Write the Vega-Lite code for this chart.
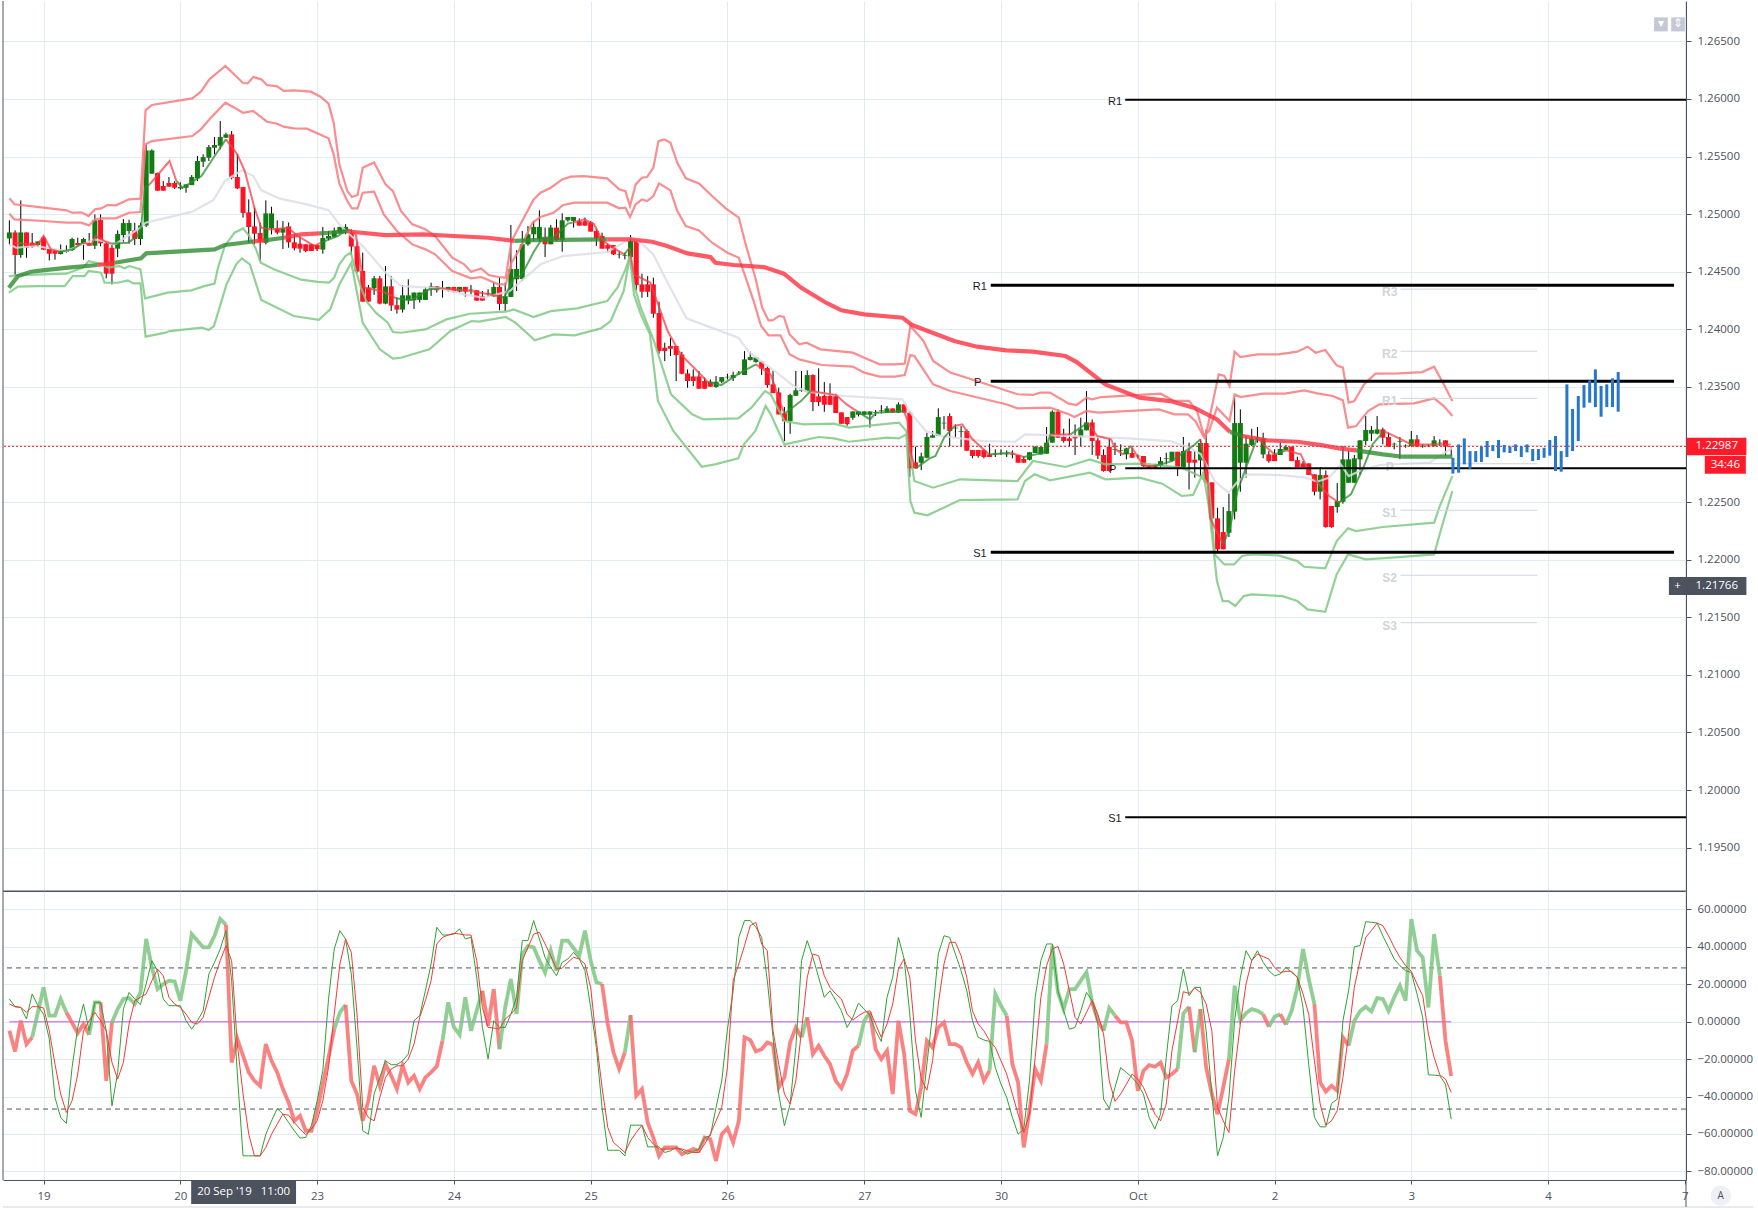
{"$schema":"https://vega.github.io/schema/vega-lite/v6.json","padding":{"left":0,"top":0,"right":73,"bottom":31},"background":"#ffffff","spacing":0,"bounds":"flush","config":{"view":{"stroke":null},"axis":{"title":null},"scale":{"continuousPadding":0}},
"datasets":{
"candles":[
{"t":-6,"o":1.24789,"h":1.24946,"l":1.24737,"c":1.24841},{"t":-5,"o":1.24841,"h":1.24859,"l":1.24471,"c":1.24645},{"t":-4,"o":1.24645,"h":1.25119,"l":1.24621,"c":1.24841},{"t":-3,"o":1.24841,"h":1.24841,"l":1.24621,"c":1.24708},{"t":-2,"o":1.24752,"h":1.24836,"l":1.24708,"c":1.24714},{"t":-1,"o":1.24731,"h":1.24763,"l":1.24714,"c":1.24763},{"t":0,"o":1.24795,"h":1.2481,"l":1.24691,"c":1.24691},{"t":1,"o":1.24697,"h":1.24697,"l":1.24598,"c":1.24656},{"t":2,"o":1.24685,"h":1.24685,"l":1.24604,"c":1.24656},{"t":3,"o":1.24653,"h":1.24737,"l":1.2465,"c":1.24682},{"t":4,"o":1.24674,"h":1.24729,"l":1.24665,"c":1.24685},{"t":5,"o":1.24688,"h":1.24795,"l":1.24679,"c":1.24784},{"t":6,"o":1.24749,"h":1.24795,"l":1.24731,"c":1.24731},{"t":7,"o":1.24743,"h":1.24795,"l":1.24604,"c":1.24784},{"t":8,"o":1.24749,"h":1.24836,"l":1.24726,"c":1.24726},{"t":9,"o":1.24726,"h":1.24998,"l":1.24697,"c":1.24946},{"t":10,"o":1.24948,"h":1.24998,"l":1.2472,"c":1.24746},{"t":11,"o":1.24746,"h":1.24766,"l":1.24442,"c":1.24483},{"t":12,"o":1.24708,"h":1.24731,"l":1.2439,"c":1.24483},{"t":13,"o":1.247,"h":1.24859,"l":1.24627,"c":1.24827},{"t":14,"o":1.24818,"h":1.24957,"l":1.2476,"c":1.24922},{"t":15,"o":1.24853,"h":1.24951,"l":1.24743,"c":1.24922},{"t":16,"o":1.24859,"h":1.24925,"l":1.24731,"c":1.24784},{"t":17,"o":1.24784,"h":1.24925,"l":1.24731,"c":1.24902},{"t":18,"o":1.24902,"h":1.25605,"l":1.24888,"c":1.25553},{"t":19,"o":1.25351,"h":1.25562,"l":1.25351,"c":1.25553},{"t":20,"o":1.25357,"h":1.2536,"l":1.25203,"c":1.25203},{"t":21,"o":1.25244,"h":1.25287,"l":1.25203,"c":1.25203},{"t":22,"o":1.2527,"h":1.25322,"l":1.25238,"c":1.25238},{"t":23,"o":1.2527,"h":1.25287,"l":1.25218,"c":1.25229},{"t":24,"o":1.25223,"h":1.25276,"l":1.25212,"c":1.25235},{"t":25,"o":1.25229,"h":1.25258,"l":1.25186,"c":1.25258},{"t":26,"o":1.25252,"h":1.25339,"l":1.25252,"c":1.25322},{"t":27,"o":1.2531,"h":1.25504,"l":1.25287,"c":1.25461},{"t":28,"o":1.25455,"h":1.25519,"l":1.25409,"c":1.25495},{"t":29,"o":1.2549,"h":1.256,"l":1.25461,"c":1.25582},{"t":30,"o":1.25576,"h":1.25669,"l":1.25519,"c":1.256},{"t":31,"o":1.25594,"h":1.25808,"l":1.25562,"c":1.25669},{"t":32,"o":1.25663,"h":1.25707,"l":1.25663,"c":1.25692},{"t":33,"o":1.25692,"h":1.25721,"l":1.25302,"c":1.25316},{"t":34,"o":1.25322,"h":1.25519,"l":1.25218,"c":1.25223},{"t":35,"o":1.25235,"h":1.25235,"l":1.24969,"c":1.25009},{"t":36,"o":1.25015,"h":1.25128,"l":1.24752,"c":1.24888},{"t":37,"o":1.24893,"h":1.25056,"l":1.24737,"c":1.2483},{"t":38,"o":1.24836,"h":1.24925,"l":1.24592,"c":1.2476},{"t":39,"o":1.24752,"h":1.25119,"l":1.24737,"c":1.25006},{"t":40,"o":1.24876,"h":1.25064,"l":1.24824,"c":1.25006},{"t":41,"o":1.24876,"h":1.24946,"l":1.24824,"c":1.24839},{"t":42,"o":1.24839,"h":1.2494,"l":1.24697,"c":1.24876},{"t":43,"o":1.24893,"h":1.24928,"l":1.24708,"c":1.24755},{"t":44,"o":1.24755,"h":1.24824,"l":1.24685,"c":1.24703},{"t":45,"o":1.24743,"h":1.24801,"l":1.24665,"c":1.247},{"t":46,"o":1.24738,"h":1.24738,"l":1.24669,"c":1.2468},{"t":47,"o":1.24738,"h":1.24738,"l":1.2468,"c":1.2468},{"t":48,"o":1.24732,"h":1.24732,"l":1.2468,"c":1.24695},{"t":49,"o":1.24692,"h":1.24889,"l":1.24657,"c":1.24793},{"t":50,"o":1.24787,"h":1.24854,"l":1.24773,"c":1.2481},{"t":51,"o":1.24802,"h":1.24883,"l":1.24796,"c":1.24854},{"t":52,"o":1.24839,"h":1.24889,"l":1.24831,"c":1.24889},{"t":53,"o":1.24839,"h":1.24912,"l":1.24825,"c":1.24889},{"t":54,"o":1.24839,"h":1.24868,"l":1.24646,"c":1.24718},{"t":55,"o":1.24721,"h":1.24773,"l":1.24492,"c":1.24501},{"t":56,"o":1.24507,"h":1.24666,"l":1.2424,"c":1.2424},{"t":57,"o":1.24362,"h":1.24385,"l":1.2424,"c":1.2424},{"t":58,"o":1.24356,"h":1.24463,"l":1.24298,"c":1.24443},{"t":59,"o":1.24443,"h":1.24463,"l":1.24217,"c":1.24223},{"t":60,"o":1.24223,"h":1.2455,"l":1.24217,"c":1.24373},{"t":61,"o":1.24373,"h":1.24463,"l":1.24159,"c":1.24206},{"t":62,"o":1.24209,"h":1.24275,"l":1.24136,"c":1.24171},{"t":63,"o":1.24171,"h":1.24385,"l":1.24145,"c":1.24295},{"t":64,"o":1.24252,"h":1.24434,"l":1.24217,"c":1.24295},{"t":65,"o":1.24252,"h":1.24319,"l":1.24177,"c":1.24319},{"t":66,"o":1.24255,"h":1.24319,"l":1.24232,"c":1.24319},{"t":67,"o":1.24255,"h":1.24368,"l":1.24255,"c":1.24347},{"t":68,"o":1.24347,"h":1.24405,"l":1.2429,"c":1.24373},{"t":69,"o":1.24373,"h":1.24373,"l":1.24319,"c":1.24339},{"t":70,"o":1.24353,"h":1.2442,"l":1.24275,"c":1.24359},{"t":71,"o":1.24339,"h":1.24368,"l":1.24327,"c":1.24368},{"t":72,"o":1.24368,"h":1.24368,"l":1.24319,"c":1.24327},{"t":73,"o":1.24327,"h":1.24368,"l":1.24319,"c":1.24368},{"t":74,"o":1.24368,"h":1.24368,"l":1.24284,"c":1.24327},{"t":75,"o":1.24339,"h":1.24385,"l":1.24304,"c":1.24345},{"t":76,"o":1.24339,"h":1.24339,"l":1.24249,"c":1.24249},{"t":77,"o":1.24287,"h":1.24333,"l":1.24249,"c":1.24249},{"t":78,"o":1.2431,"h":1.24347,"l":1.24281,"c":1.24316},{"t":79,"o":1.24287,"h":1.24405,"l":1.24281,"c":1.24368},{"t":80,"o":1.24368,"h":1.24449,"l":1.24165,"c":1.2422},{"t":81,"o":1.2422,"h":1.24405,"l":1.24159,"c":1.24287},{"t":82,"o":1.24281,"h":1.24906,"l":1.24281,"c":1.24524},{"t":83,"o":1.24434,"h":1.24686,"l":1.24333,"c":1.24524},{"t":84,"o":1.24437,"h":1.24854,"l":1.2442,"c":1.24738},{"t":85,"o":1.24738,"h":1.24897,"l":1.24724,"c":1.24825},{"t":86,"o":1.24825,"h":1.24941,"l":1.24767,"c":1.24889},{"t":87,"o":1.24782,"h":1.25033,"l":1.24767,"c":1.24889},{"t":88,"o":1.24796,"h":1.24883,"l":1.24628,"c":1.24738},{"t":89,"o":1.24738,"h":1.24906,"l":1.24738,"c":1.24883},{"t":90,"o":1.24883,"h":1.24955,"l":1.24767,"c":1.24773},{"t":91,"o":1.24773,"h":1.25007,"l":1.24674,"c":1.24946},{"t":92,"o":1.24946,"h":1.24975,"l":1.24935,"c":1.24975},{"t":93,"o":1.24941,"h":1.24975,"l":1.24883,"c":1.24975},{"t":94,"o":1.24938,"h":1.24964,"l":1.249,"c":1.249},{"t":95,"o":1.24938,"h":1.2497,"l":1.249,"c":1.249},{"t":96,"o":1.24929,"h":1.24941,"l":1.24848,"c":1.24848},{"t":97,"o":1.24854,"h":1.24868,"l":1.24724,"c":1.2479},
{"t":98,"o":1.2481,"h":1.24839,"l":1.247,"c":1.247},{"t":99,"o":1.24731,"h":1.24743,"l":1.24665,"c":1.247},{"t":100,"o":1.24731,"h":1.24731,"l":1.24645,"c":1.2465},{"t":101,"o":1.24645,"h":1.24674,"l":1.24616,"c":1.2465},{"t":102,"o":1.24639,"h":1.24665,"l":1.24607,"c":1.24645},{"t":103,"o":1.24627,"h":1.24818,"l":1.24607,"c":1.24766},{"t":104,"o":1.24766,"h":1.24766,"l":1.24338,"c":1.24384},{"t":105,"o":1.2439,"h":1.24483,"l":1.24274,"c":1.24326},{"t":106,"o":1.2439,"h":1.24462,"l":1.2428,"c":1.24326},{"t":107,"o":1.2439,"h":1.24448,"l":1.24101,"c":1.24135},{"t":108,"o":1.24141,"h":1.2424,"l":1.23788,"c":1.23811},{"t":109,"o":1.2384,"h":1.23884,"l":1.23724,"c":1.23811},{"t":110,"o":1.23855,"h":1.23927,"l":1.23768,"c":1.23831},{"t":111,"o":1.23855,"h":1.23855,"l":1.23551,"c":1.23777},{"t":112,"o":1.23782,"h":1.23805,"l":1.23609,"c":1.23614},{"t":113,"o":1.23617,"h":1.23652,"l":1.23493,"c":1.23551},{"t":114,"o":1.23591,"h":1.23652,"l":1.23507,"c":1.23551},{"t":115,"o":1.23591,"h":1.23638,"l":1.23484,"c":1.23484},{"t":116,"o":1.23551,"h":1.2358,"l":1.23484,"c":1.23484},{"t":117,"o":1.23545,"h":1.23565,"l":1.23499,"c":1.23502},{"t":118,"o":1.23499,"h":1.23594,"l":1.23493,"c":1.23545},{"t":119,"o":1.23545,"h":1.23585,"l":1.23533,"c":1.23585},{"t":120,"o":1.23583,"h":1.23614,"l":1.23565,"c":1.23588},{"t":121,"o":1.23577,"h":1.23632,"l":1.23551,"c":1.23603},{"t":122,"o":1.23617,"h":1.23638,"l":1.23603,"c":1.23623},{"t":123,"o":1.23603,"h":1.23811,"l":1.23603,"c":1.23739},{"t":124,"o":1.23733,"h":1.23805,"l":1.2373,"c":1.23759},{"t":125,"o":1.23716,"h":1.23756,"l":1.2371,"c":1.23756},{"t":126,"o":1.23719,"h":1.23724,"l":1.23603,"c":1.23658},{"t":127,"o":1.23664,"h":1.23681,"l":1.23493,"c":1.23516},{"t":128,"o":1.23522,"h":1.23638,"l":1.23446,"c":1.23446},{"t":129,"o":1.23452,"h":1.23493,"l":1.23261,"c":1.23261},{"t":130,"o":1.2327,"h":1.23325,"l":1.2303,"c":1.23203},{"t":131,"o":1.23203,"h":1.23441,"l":1.23093,"c":1.23429},{"t":132,"o":1.23423,"h":1.23638,"l":1.23423,"c":1.2347},{"t":133,"o":1.23464,"h":1.23638,"l":1.23458,"c":1.2347},{"t":134,"o":1.23458,"h":1.23643,"l":1.23452,"c":1.23603},{"t":135,"o":1.23603,"h":1.23609,"l":1.2329,"c":1.23368},{"t":136,"o":1.23418,"h":1.23661,"l":1.23334,"c":1.23368},{"t":137,"o":1.23423,"h":1.23542,"l":1.23284,"c":1.23345},{"t":138,"o":1.23423,"h":1.2353,"l":1.23345,"c":1.23345},{"t":139,"o":1.23418,"h":1.23441,"l":1.23273,"c":1.23273},{"t":140,"o":1.23279,"h":1.23279,"l":1.2318,"c":1.2318},{"t":141,"o":1.23238,"h":1.23238,"l":1.23163,"c":1.23177},{"t":142,"o":1.23232,"h":1.23287,"l":1.23215,"c":1.23287},{"t":143,"o":1.23258,"h":1.23287,"l":1.23244,"c":1.23287},{"t":144,"o":1.23258,"h":1.23287,"l":1.23255,"c":1.23287},{"t":145,"o":1.23258,"h":1.23287,"l":1.23146,"c":1.23287},{"t":146,"o":1.23276,"h":1.23299,"l":1.23247,"c":1.23282},{"t":147,"o":1.2329,"h":1.23342,"l":1.2327,"c":1.23296},{"t":148,"o":1.23276,"h":1.23334,"l":1.23276,"c":1.23313},{"t":149,"o":1.23313,"h":1.23313,"l":1.23276,"c":1.23276},{"t":150,"o":1.23276,"h":1.23365,"l":1.23276,"c":1.23348},
{"t":151,"o":1.23348,"h":1.23354,"l":1.23276,"c":1.23276},{"t":152,"o":1.23276,"h":1.23291,"l":1.22718,"c":1.22793},{"t":153,"o":1.22845,"h":1.22981,"l":1.22793,"c":1.22793},{"t":154,"o":1.22842,"h":1.22929,"l":1.22778,"c":1.22897},{"t":155,"o":1.22885,"h":1.23102,"l":1.2288,"c":1.23065},{"t":156,"o":1.23059,"h":1.23117,"l":1.23059,"c":1.23079},{"t":157,"o":1.23076,"h":1.23314,"l":1.23076,"c":1.23238},{"t":158,"o":1.23183,"h":1.23247,"l":1.23131,"c":1.23189},{"t":159,"o":1.23247,"h":1.2327,"l":1.22987,"c":1.23117},{"t":160,"o":1.2314,"h":1.23175,"l":1.23059,"c":1.23146},{"t":161,"o":1.23111,"h":1.2316,"l":1.22987,"c":1.23117},{"t":162,"o":1.23117,"h":1.23131,"l":1.22946,"c":1.22946},{"t":163,"o":1.22952,"h":1.22952,"l":1.2288,"c":1.229},{"t":164,"o":1.22952,"h":1.22952,"l":1.22885,"c":1.229},{"t":165,"o":1.22952,"h":1.22958,"l":1.2288,"c":1.22891},{"t":166,"o":1.22914,"h":1.23007,"l":1.22891,"c":1.22891},{"t":167,"o":1.22914,"h":1.22958,"l":1.22891,"c":1.2292},{"t":168,"o":1.2292,"h":1.22958,"l":1.22909,"c":1.22926},{"t":169,"o":1.22914,"h":1.22949,"l":1.22891,"c":1.2292},{"t":170,"o":1.22909,"h":1.22949,"l":1.2288,"c":1.22914},{"t":171,"o":1.22909,"h":1.22909,"l":1.22842,"c":1.22842},{"t":172,"o":1.22874,"h":1.229,"l":1.22842,"c":1.22842},{"t":173,"o":1.22868,"h":1.22932,"l":1.22862,"c":1.22932},{"t":174,"o":1.22926,"h":1.22987,"l":1.22926,"c":1.22978},{"t":175,"o":1.22914,"h":1.22981,"l":1.22914,"c":1.22978},{"t":176,"o":1.2292,"h":1.23152,"l":1.2292,"c":1.23016},{"t":177,"o":1.23016,"h":1.23296,"l":1.23016,"c":1.23285},{"t":178,"o":1.23285,"h":1.23305,"l":1.23059,"c":1.23059},{"t":179,"o":1.23065,"h":1.23137,"l":1.23016,"c":1.2303},{"t":180,"o":1.23053,"h":1.23224,"l":1.22987,"c":1.2303},{"t":181,"o":1.23073,"h":1.23175,"l":1.22909,"c":1.23053},{"t":182,"o":1.23065,"h":1.23233,"l":1.22987,"c":1.23131},{"t":183,"o":1.23123,"h":1.23464,"l":1.23123,"c":1.23192},{"t":184,"o":1.23192,"h":1.23218,"l":1.22909,"c":1.2303},{"t":185,"o":1.23036,"h":1.23059,"l":1.22874,"c":1.22903},{"t":186,"o":1.22909,"h":1.22958,"l":1.22764,"c":1.2277},{"t":187,"o":1.22981,"h":1.23059,"l":1.22764,"c":1.2277},{"t":188,"o":1.22952,"h":1.23016,"l":1.22909,"c":1.22958},{"t":189,"o":1.22946,"h":1.23001,"l":1.229,"c":1.22952},{"t":190,"o":1.22914,"h":1.22972,"l":1.22871,"c":1.22966},{"t":191,"o":1.22926,"h":1.22972,"l":1.22885,"c":1.22885},{"t":192,"o":1.22897,"h":1.22914,"l":1.2288,"c":1.22903},{"t":193,"o":1.229,"h":1.229,"l":1.22804,"c":1.22813},{"t":194,"o":1.22816,"h":1.22822,"l":1.22793,"c":1.22799},{"t":195,"o":1.22822,"h":1.22833,"l":1.22793,"c":1.22799},{"t":196,"o":1.22816,"h":1.22891,"l":1.22804,"c":1.22856},{"t":197,"o":1.22874,"h":1.22929,"l":1.22827,"c":1.2288},{"t":198,"o":1.22856,"h":1.22937,"l":1.22851,"c":1.22937},{"t":199,"o":1.22937,"h":1.22937,"l":1.22726,"c":1.22804},{"t":200,"o":1.22804,"h":1.23065,"l":1.22804,"c":1.22943},{"t":201,"o":1.22943,"h":1.23016,"l":1.2261,"c":1.22842},{"t":202,"o":1.22868,"h":1.22943,"l":1.22712,"c":1.22842},{"t":203,"o":1.22862,"h":1.23045,"l":1.22712,"c":1.23013},
{"t":204,"o":1.23013,"h":1.23131,"l":1.22671,"c":1.22671},{"t":205,"o":1.22671,"h":1.22671,"l":1.22255,"c":1.22359},{"t":206,"o":1.22359,"h":1.22451,"l":1.22075,"c":1.2209},{"t":207,"o":1.2224,"h":1.22457,"l":1.2209,"c":1.2209},{"t":208,"o":1.22234,"h":1.22573,"l":1.22197,"c":1.22422},{"t":209,"o":1.22417,"h":1.23406,"l":1.2235,"c":1.23186},{"t":210,"o":1.22842,"h":1.23305,"l":1.2259,"c":1.23186},{"t":211,"o":1.22842,"h":1.23073,"l":1.22712,"c":1.23007},{"t":212,"o":1.22995,"h":1.23137,"l":1.22987,"c":1.23053},{"t":213,"o":1.23053,"h":1.23152,"l":1.23016,"c":1.23059},{"t":214,"o":1.22914,"h":1.23102,"l":1.2288,"c":1.23053},{"t":215,"o":1.22914,"h":1.22943,"l":1.22842,"c":1.22856},{"t":216,"o":1.22914,"h":1.22958,"l":1.22856,"c":1.22856},{"t":217,"o":1.22909,"h":1.23016,"l":1.22909,"c":1.22961},{"t":218,"o":1.22952,"h":1.22995,"l":1.22952,"c":1.22978},{"t":219,"o":1.22981,"h":1.22981,"l":1.22856,"c":1.22856},{"t":220,"o":1.22865,"h":1.22894,"l":1.22804,"c":1.22804},{"t":221,"o":1.22836,"h":1.22856,"l":1.22804,"c":1.22804},{"t":222,"o":1.22836,"h":1.22836,"l":1.22735,"c":1.22735},{"t":223,"o":1.22741,"h":1.22741,"l":1.22558,"c":1.2259},{"t":224,"o":1.2259,"h":1.22804,"l":1.22524,"c":1.22735},{"t":225,"o":1.22735,"h":1.22775,"l":1.22278,"c":1.22283},{"t":226,"o":1.22466,"h":1.22466,"l":1.22278,"c":1.22283},{"t":227,"o":1.22457,"h":1.22665,"l":1.22408,"c":1.22509},{"t":228,"o":1.22503,"h":1.22987,"l":1.22486,"c":1.22871},{"t":229,"o":1.22668,"h":1.22943,"l":1.22668,"c":1.22871},{"t":230,"o":1.22668,"h":1.22909,"l":1.22668,"c":1.2288},{"t":231,"o":1.22871,"h":1.23036,"l":1.22735,"c":1.23036},{"t":232,"o":1.2303,"h":1.23247,"l":1.22995,"c":1.23126},{"t":233,"o":1.23094,"h":1.2316,"l":1.2303,"c":1.23126},{"t":234,"o":1.23094,"h":1.23247,"l":1.23088,"c":1.23131},{"t":235,"o":1.23131,"h":1.23146,"l":1.23001,"c":1.23059},{"t":236,"o":1.23065,"h":1.23102,"l":1.22978,"c":1.22981},{"t":237,"o":1.23001,"h":1.23016,"l":1.22958,"c":1.23007},{"t":238,"o":1.23024,"h":1.23065,"l":1.22874,"c":1.2303},{"t":239,"o":1.22984,"h":1.23001,"l":1.22972,"c":1.2299},{"t":240,"o":1.22987,"h":1.23117,"l":1.22981,"c":1.23045},{"t":241,"o":1.23045,"h":1.23082,"l":1.22981,"c":1.22981},{"t":242,"o":1.22984,"h":1.23001,"l":1.22972,"c":1.2299},{"t":243,"o":1.22984,"h":1.23001,"l":1.22978,"c":1.2299},{"t":244,"o":1.22984,"h":1.23073,"l":1.22984,"c":1.23036},{"t":245,"o":1.2301,"h":1.23045,"l":1.22987,"c":1.23016},{"t":246,"o":1.23036,"h":1.23036,"l":1.22903,"c":1.22981},{"t":247,"o":1.22984,"h":1.22984,"l":1.22903,"c":1.22978}],
"forecast":[{"t":247.3,"hi":1.22885,"lo":1.22747},{"t":248.3,"hi":1.23001,"lo":1.22755},{"t":249.3,"hi":1.23053,"lo":1.22828},{"t":250.3,"hi":1.22943,"lo":1.2279},{"t":251.3,"hi":1.22943,"lo":1.22848},{"t":252.3,"hi":1.22984,"lo":1.22848},{"t":253.3,"hi":1.2303,"lo":1.22891},{"t":254.3,"hi":1.22995,"lo":1.22943},{"t":255.3,"hi":1.23039,"lo":1.22883},{"t":256.3,"hi":1.22995,"lo":1.22932},{"t":257.3,"hi":1.22984,"lo":1.22926},{"t":258.3,"hi":1.23001,"lo":1.22943},{"t":259.3,"hi":1.22984,"lo":1.22891},{"t":260.3,"hi":1.23001,"lo":1.22932},{"t":261.3,"hi":1.22961,"lo":1.22856},{"t":262.3,"hi":1.22961,"lo":1.22865},{"t":263.3,"hi":1.22972,"lo":1.22885},{"t":264.3,"hi":1.23039,"lo":1.22903},{"t":265.3,"hi":1.23074,"lo":1.2277},{"t":266.3,"hi":1.22943,"lo":1.22764},{"t":267.3,"hi":1.23522,"lo":1.22891},{"t":268.3,"hi":1.23308,"lo":1.22943},{"t":269.3,"hi":1.23421,"lo":1.2303},{"t":270.3,"hi":1.23516,"lo":1.2332},{"t":271.3,"hi":1.23557,"lo":1.23363},{"t":272.3,"hi":1.23652,"lo":1.23325},{"t":273.3,"hi":1.23508,"lo":1.23241},{"t":274.3,"hi":1.23522,"lo":1.23325},{"t":275.3,"hi":1.23574,"lo":1.23325},{"t":276.3,"hi":1.23629,"lo":1.23285}],
"pivots":[{"kind":"gray","name":"R3","from":238.1,"to":262.1,"p":1.24349,"lx":236.2},{"kind":"gray","name":"R2","from":238.1,"to":262.1,"p":1.2381,"lx":236.2},{"kind":"gray","name":"R1","from":238.1,"to":262.1,"p":1.23401,"lx":236.2},{"kind":"gray","name":"P","from":238.1,"to":262.1,"p":1.22833,"lx":236.2},{"kind":"gray","name":"S1","from":238.1,"to":262.1,"p":1.22429,"lx":236.2},{"kind":"gray","name":"S2","from":238.1,"to":262.1,"p":1.21865,"lx":236.2},{"kind":"gray","name":"S3","from":238.1,"to":262.1,"p":1.21453,"lx":236.2},{"kind":"thick","name":"R1","from":166.2,"to":286.1,"p":1.24382,"lx":164.3},{"kind":"thick","name":"P","from":166.2,"to":286.1,"p":1.23549,"lx":163.9},{"kind":"thick","name":"S1","from":166.2,"to":286.1,"p":1.22064,"lx":164.3},{"kind":"thin","name":"R1","from":189.8,"to":288.2,"p":1.25993,"lx":188},{"kind":"thin","name":"P","from":189.8,"to":288.2,"p":1.22793,"lx":187.6},{"kind":"thin","name":"S1","from":189.8,"to":288.2,"p":1.19765,"lx":188}],
"bands":[
{"s":"u2","t":-6,"p":1.25137},{"s":"u2","t":-5.1,"p":1.25085},{"s":"u2","t":0,"p":1.25056},{"s":"u2","t":4,"p":1.25033},{"s":"u2","t":5,"p":1.25012},{"s":"u2","t":6.6,"p":1.25015},{"s":"u2","t":7.9,"p":1.24983},{"s":"u2","t":9,"p":1.25041},{"s":"u2","t":10.1,"p":1.2505},{"s":"u2","t":11.2,"p":1.25079},{"s":"u2","t":12.7,"p":1.25076},{"s":"u2","t":15,"p":1.25128},{"s":"u2","t":17,"p":1.25134},{"s":"u2","t":17.9,"p":1.25901},{"s":"u2","t":19,"p":1.25947},{"s":"u2","t":26.1,"p":1.26005},{"s":"u2","t":27.6,"p":1.26063},{"s":"u2","t":29.1,"p":1.2617},{"s":"u2","t":31.9,"p":1.26286},{"s":"u2","t":35,"p":1.26138},{"s":"u2","t":35.8,"p":1.26135},{"s":"u2","t":36.8,"p":1.2619},{"s":"u2","t":38.2,"p":1.2617},{"s":"u2","t":39.2,"p":1.26121},{"s":"u2","t":41,"p":1.26109},{"s":"u2","t":42.1,"p":1.26069},{"s":"u2","t":43.9,"p":1.26074},{"s":"u2","t":46.9,"p":1.26063},{"s":"u2","t":48.6,"p":1.26019},{"s":"u2","t":50,"p":1.25959},{"s":"u2","t":50.9,"p":1.25794},{"s":"u2","t":51.9,"p":1.25432},{"s":"u2","t":53.3,"p":1.252},{"s":"u2","t":54.1,"p":1.25148},{"s":"u2","t":55.1,"p":1.25166},{"s":"u2","t":56,"p":1.25403},{"s":"u2","t":58,"p":1.25449},{"s":"u2","t":60,"p":1.25258},{"s":"u2","t":61.3,"p":1.252},{"s":"u2","t":62.7,"p":1.25027},{"s":"u2","t":64.7,"p":1.24911},{"s":"u2","t":67,"p":1.24868},{"s":"u2","t":68.7,"p":1.2481},{"s":"u2","t":71.7,"p":1.24622},{"s":"u2","t":73.8,"p":1.24564},{"s":"u2","t":75,"p":1.245},{"s":"u2","t":76.8,"p":1.24529},{"s":"u2","t":78.1,"p":1.24471},{"s":"u2","t":79.8,"p":1.24454},{"s":"u2","t":81.1,"p":1.24448},{"s":"u2","t":82.1,"p":1.24766},{"s":"u2","t":86,"p":1.25128},{"s":"u2","t":87.2,"p":1.25186},{"s":"u2","t":89,"p":1.25229},{"s":"u2","t":91,"p":1.25301},{"s":"u2","t":92.5,"p":1.25325},{"s":"u2","t":94.8,"p":1.2533},{"s":"u2","t":98.9,"p":1.2531},{"s":"u2","t":101,"p":1.25215},{"s":"u2","t":102.1,"p":1.252},{"s":"u2","t":102.9,"p":1.2507},{"s":"u2","t":103.9,"p":1.25258},{"s":"u2","t":105,"p":1.25316},{"s":"u2","t":105.9,"p":1.25322},{"s":"u2","t":107,"p":1.25403},{"s":"u2","t":107.9,"p":1.25634},{"s":"u2","t":108.9,"p":1.25649},{"s":"u2","t":110,"p":1.2562},{"s":"u2","t":111.2,"p":1.25446},{"s":"u2","t":112.7,"p":1.2531},{"s":"u2","t":115,"p":1.25267},{"s":"u2","t":117.3,"p":1.25157},{"s":"u2","t":119.7,"p":1.2505},{"s":"u2","t":122,"p":1.24969},{"s":"u2","t":123.2,"p":1.24737},{"s":"u2","t":124.9,"p":1.24448},{"s":"u2","t":126.1,"p":1.24187},{"s":"u2","t":127.2,"p":1.24078},{"s":"u2","t":127.9,"p":1.24078},{"s":"u2","t":129.1,"p":1.24116},{"s":"u2","t":129.9,"p":1.24107},{"s":"u2","t":130.9,"p":1.23956},{"s":"u2","t":132.6,"p":1.2387},{"s":"u2","t":133.9,"p":1.23884},{"s":"u2","t":136.3,"p":1.23826},{"s":"u2","t":142,"p":1.23797},{"s":"u2","t":144,"p":1.23754},{"s":"u2","t":146.7,"p":1.23696},{"s":"u2","t":149.4,"p":1.23696},{"s":"u2","t":151.1,"p":1.23702},{"s":"u2","t":152.1,"p":1.24029},{"s":"u2","t":154.4,"p":1.23899},{"s":"u2","t":156.1,"p":1.23725},{"s":"u2","t":159.1,"p":1.23624},{"s":"u2","t":162.8,"p":1.23566},{"s":"u2","t":170.9,"p":1.23436},{"s":"u2","t":173.6,"p":1.2343},{"s":"u2","t":174.9,"p":1.2345},{"s":"u2","t":176.6,"p":1.2345},{"s":"u2","t":179.9,"p":1.23355},{"s":"u2","t":181.3,"p":1.23343},{"s":"u2","t":183,"p":1.23407},{"s":"u2","t":184,"p":1.23392},{"s":"u2","t":185.6,"p":1.23412},{"s":"u2","t":196,"p":1.23441},{"s":"u2","t":198.4,"p":1.23378},{"s":"u2","t":201,"p":1.23378},{"s":"u2","t":202.4,"p":1.23291},{"s":"u2","t":203.8,"p":1.23045},{"s":"u2","t":206.2,"p":1.23609},{"s":"u2","t":207.2,"p":1.23595},{"s":"u2","t":208.1,"p":1.23508},{"s":"u2","t":209,"p":1.23806},{"s":"u2","t":210,"p":1.23759},{"s":"u2","t":213,"p":1.23783},{"s":"u2","t":216.7,"p":1.23783},{"s":"u2","t":220,"p":1.23806},{"s":"u2","t":221.8,"p":1.23849},{"s":"u2","t":223.2,"p":1.23797},{"s":"u2","t":224.9,"p":1.2382},{"s":"u2","t":226.9,"p":1.23687},{"s":"u2","t":228,"p":1.23667},{"s":"u2","t":229,"p":1.23363},{"s":"u2","t":230,"p":1.23377},{"s":"u2","t":231.7,"p":1.23522},{"s":"u2","t":233.7,"p":1.23615},{"s":"u2","t":237.8,"p":1.23618},{"s":"u2","t":241.9,"p":1.23629},{"s":"u2","t":244,"p":1.23676},{"s":"u2","t":245.7,"p":1.23522},{"s":"u2","t":247.2,"p":1.23377},
{"s":"u1","t":-6,"p":1.25004},{"s":"u1","t":-5.1,"p":1.24954},{"s":"u1","t":0,"p":1.2494},{"s":"u1","t":4,"p":1.24926},{"s":"u1","t":6.6,"p":1.24926},{"s":"u1","t":8,"p":1.24902},{"s":"u1","t":9,"p":1.24954},{"s":"u1","t":10.1,"p":1.24963},{"s":"u1","t":12.7,"p":1.24963},{"s":"u1","t":15,"p":1.25012},{"s":"u1","t":17,"p":1.25018},{"s":"u1","t":17.9,"p":1.25606},{"s":"u1","t":19,"p":1.25634},{"s":"u1","t":26.1,"p":1.25678},{"s":"u1","t":27.6,"p":1.25736},{"s":"u1","t":29.1,"p":1.25823},{"s":"u1","t":31.9,"p":1.25967},{"s":"u1","t":33.5,"p":1.25924},{"s":"u1","t":35,"p":1.2588},{"s":"u1","t":36.8,"p":1.25895},{"s":"u1","t":39.2,"p":1.25802},{"s":"u1","t":41,"p":1.25785},{"s":"u1","t":42.1,"p":1.25759},{"s":"u1","t":43.9,"p":1.25745},{"s":"u1","t":46.2,"p":1.25742},{"s":"u1","t":50,"p":1.25658},{"s":"u1","t":50.9,"p":1.25519},{"s":"u1","t":51.9,"p":1.25264},{"s":"u1","t":53.3,"p":1.25114},{"s":"u1","t":54.1,"p":1.2505},{"s":"u1","t":55.1,"p":1.2505},{"s":"u1","t":56,"p":1.25186},{"s":"u1","t":58,"p":1.25195},{"s":"u1","t":59.7,"p":1.24998},{"s":"u1","t":62,"p":1.24853},{"s":"u1","t":64.7,"p":1.24737},{"s":"u1","t":67,"p":1.24694},{"s":"u1","t":68.7,"p":1.24651},{"s":"u1","t":71.7,"p":1.24506},{"s":"u1","t":75,"p":1.24442},{"s":"u1","t":76.8,"p":1.24454},{"s":"u1","t":79.8,"p":1.2439},{"s":"u1","t":81.1,"p":1.2439},{"s":"u1","t":82.1,"p":1.24578},{"s":"u1","t":83.5,"p":1.24694},{"s":"u1","t":85.8,"p":1.24925},{"s":"u1","t":87.2,"p":1.24975},{"s":"u1","t":89.5,"p":1.25012},{"s":"u1","t":91.2,"p":1.25079},{"s":"u1","t":93.2,"p":1.25099},{"s":"u1","t":98.9,"p":1.25099},{"s":"u1","t":101,"p":1.2505},{"s":"u1","t":102.1,"p":1.25056},{"s":"u1","t":102.9,"p":1.24975},{"s":"u1","t":103.9,"p":1.25085},{"s":"u1","t":105,"p":1.25128},{"s":"u1","t":105.9,"p":1.25113},{"s":"u1","t":107,"p":1.25157},{"s":"u1","t":108,"p":1.25267},{"s":"u1","t":110,"p":1.25206},{"s":"u1","t":111.2,"p":1.25027},{"s":"u1","t":112.7,"p":1.24896},{"s":"u1","t":115,"p":1.24859},{"s":"u1","t":117.3,"p":1.24752},{"s":"u1","t":120,"p":1.24665},{"s":"u1","t":122,"p":1.24621},{"s":"u1","t":123.2,"p":1.24448},{"s":"u1","t":124.6,"p":1.24245},{"s":"u1","t":125.9,"p":1.24029},{"s":"u1","t":127.2,"p":1.23948},{"s":"u1","t":129.3,"p":1.23948},{"s":"u1","t":130.9,"p":1.23783},{"s":"u1","t":132.6,"p":1.23739},{"s":"u1","t":136.6,"p":1.2369},{"s":"u1","t":142,"p":1.23676},{"s":"u1","t":144,"p":1.23624},{"s":"u1","t":146.7,"p":1.23589},{"s":"u1","t":149.4,"p":1.23589},{"s":"u1","t":151.1,"p":1.23603},{"s":"u1","t":152.1,"p":1.23777},{"s":"u1","t":152.8,"p":1.23768},{"s":"u1","t":156.1,"p":1.23522},{"s":"u1","t":159.1,"p":1.23464},{"s":"u1","t":168.9,"p":1.23349},{"s":"u1","t":170.9,"p":1.23314},{"s":"u1","t":176.6,"p":1.2332},{"s":"u1","t":179.9,"p":1.23262},{"s":"u1","t":180.9,"p":1.23239},{"s":"u1","t":183,"p":1.23291},{"s":"u1","t":185,"p":1.23276},{"s":"u1","t":195.7,"p":1.23305},{"s":"u1","t":198.4,"p":1.23262},{"s":"u1","t":200.8,"p":1.23262},{"s":"u1","t":202.1,"p":1.23204},{"s":"u1","t":203.5,"p":1.23074},{"s":"u1","t":204.5,"p":1.23117},{"s":"u1","t":205.9,"p":1.2332},{"s":"u1","t":208.1,"p":1.23204},{"s":"u1","t":209,"p":1.23435},{"s":"u1","t":210,"p":1.23412},{"s":"u1","t":214,"p":1.23441},{"s":"u1","t":217.8,"p":1.23441},{"s":"u1","t":221.2,"p":1.2347},{"s":"u1","t":223.5,"p":1.23444},{"s":"u1","t":226.2,"p":1.23421},{"s":"u1","t":228,"p":1.23383},{"s":"u1","t":228.9,"p":1.23146},{"s":"u1","t":230.3,"p":1.2316},{"s":"u1","t":232.4,"p":1.23291},{"s":"u1","t":234.4,"p":1.23348},{"s":"u1","t":240.5,"p":1.23357},{"s":"u1","t":244,"p":1.23401},{"s":"u1","t":245.7,"p":1.23334},{"s":"u1","t":247.2,"p":1.23247},
{"s":"l1","t":-6.1,"p":1.24459},{"s":"l1","t":-4.5,"p":1.24471},{"s":"l1","t":4,"p":1.24483},{"s":"l1","t":6.9,"p":1.24535},{"s":"l1","t":7.9,"p":1.24592},{"s":"l1","t":10.1,"p":1.24569},{"s":"l1","t":11.3,"p":1.24535},{"s":"l1","t":13.3,"p":1.24549},{"s":"l1","t":14.2,"p":1.24529},{"s":"l1","t":15.1,"p":1.24549},{"s":"l1","t":17,"p":1.2452},{"s":"l1","t":17.8,"p":1.24268},{"s":"l1","t":21.8,"p":1.24318},{"s":"l1","t":25.9,"p":1.24338},{"s":"l1","t":28.2,"p":1.24375},{"s":"l1","t":30,"p":1.24396},{"s":"l1","t":30.6,"p":1.24535},{"s":"l1","t":31.8,"p":1.24723},{"s":"l1","t":33.5,"p":1.24839},{"s":"l1","t":35,"p":1.24876},{"s":"l1","t":36.1,"p":1.2481},{"s":"l1","t":37.3,"p":1.24694},{"s":"l1","t":38.1,"p":1.24578},{"s":"l1","t":40.5,"p":1.2452},{"s":"l1","t":45.2,"p":1.24431},{"s":"l1","t":48.1,"p":1.24411},{"s":"l1","t":50.1,"p":1.24405},{"s":"l1","t":51,"p":1.24449},{"s":"l1","t":51.9,"p":1.24565},{"s":"l1","t":53,"p":1.24637},{"s":"l1","t":53.9,"p":1.24666},{"s":"l1","t":54.8,"p":1.24507},{"s":"l1","t":55.7,"p":1.24362},{"s":"l1","t":56.6,"p":1.24246},{"s":"l1","t":58.3,"p":1.24145},{"s":"l1","t":60.4,"p":1.24058},{"s":"l1","t":61.3,"p":1.23976},{"s":"l1","t":62.7,"p":1.2397},{"s":"l1","t":67,"p":1.23999},{"s":"l1","t":70.7,"p":1.24086},{"s":"l1","t":74.8,"p":1.24135},{"s":"l1","t":81.1,"p":1.24153},{"s":"l1","t":82.5,"p":1.24173},{"s":"l1","t":86,"p":1.24106},{"s":"l1","t":89,"p":1.24158},{"s":"l1","t":93.6,"p":1.24182},{"s":"l1","t":98.9,"p":1.24245},{"s":"l1","t":100.7,"p":1.24361},{"s":"l1","t":102.1,"p":1.2452},{"s":"l1","t":102.9,"p":1.24636},{"s":"l1","t":103.6,"p":1.2439},{"s":"l1","t":104.8,"p":1.24187},{"s":"l1","t":107.1,"p":1.23899},{"s":"l1","t":110.1,"p":1.23435},{"s":"l1","t":113.8,"p":1.23262},{"s":"l1","t":115.8,"p":1.23218},{"s":"l1","t":121.9,"p":1.23227},{"s":"l1","t":124.2,"p":1.2332},{"s":"l1","t":126.6,"p":1.23464},{"s":"l1","t":127.6,"p":1.23435},{"s":"l1","t":130,"p":1.23204},{"s":"l1","t":133.3,"p":1.23175},{"s":"l1","t":138.7,"p":1.23181},{"s":"l1","t":141.3,"p":1.23146},{"s":"l1","t":150.1,"p":1.2319},{"s":"l1","t":151.4,"p":1.23117},{"s":"l1","t":152.8,"p":1.22683},{"s":"l1","t":156.1,"p":1.22625},{"s":"l1","t":160.8,"p":1.22698},{"s":"l1","t":170.9,"p":1.22683},{"s":"l1","t":173.6,"p":1.22857},{"s":"l1","t":179.3,"p":1.22805},{"s":"l1","t":183.6,"p":1.22871},{"s":"l1","t":186.3,"p":1.22828},{"s":"l1","t":193,"p":1.22834},{"s":"l1","t":199.7,"p":1.22799},{"s":"l1","t":202.9,"p":1.22726},{"s":"l1","t":204.5,"p":1.22654},{"s":"l1","t":205.5,"p":1.22046},{"s":"l1","t":207.2,"p":1.21959},{"s":"l1","t":208.9,"p":1.21959},{"s":"l1","t":210.3,"p":1.22032},{"s":"l1","t":212,"p":1.22046},{"s":"l1","t":216.7,"p":1.22037},{"s":"l1","t":220,"p":1.21988},{"s":"l1","t":221.2,"p":1.21939},{"s":"l1","t":224.9,"p":1.21925},{"s":"l1","t":226.9,"p":1.22162},{"s":"l1","t":228.9,"p":1.22272},{"s":"l1","t":230.3,"p":1.22249},{"s":"l1","t":235,"p":1.22284},{"s":"l1","t":244,"p":1.22321},{"s":"l1","t":245,"p":1.22466},{"s":"l1","t":247.2,"p":1.22726},
{"s":"l2","t":-6.1,"p":1.24318},{"s":"l2","t":-4.5,"p":1.2437},{"s":"l2","t":-1,"p":1.24375},{"s":"l2","t":3.7,"p":1.24375},{"s":"l2","t":5.1,"p":1.24462},{"s":"l2","t":7.2,"p":1.24462},{"s":"l2","t":7.9,"p":1.24506},{"s":"l2","t":10.1,"p":1.24491},{"s":"l2","t":10.7,"p":1.24404},{"s":"l2","t":13,"p":1.24404},{"s":"l2","t":14.8,"p":1.24425},{"s":"l2","t":15.7,"p":1.24399},{"s":"l2","t":17,"p":1.24399},{"s":"l2","t":17.9,"p":1.23936},{"s":"l2","t":21.4,"p":1.23971},{"s":"l2","t":22.1,"p":1.23985},{"s":"l2","t":27.8,"p":1.24014},{"s":"l2","t":29,"p":1.23994},{"s":"l2","t":29.9,"p":1.24028},{"s":"l2","t":32.1,"p":1.2439},{"s":"l2","t":33.8,"p":1.24564},{"s":"l2","t":34.8,"p":1.24616},{"s":"l2","t":36.2,"p":1.24564},{"s":"l2","t":38.2,"p":1.24254},{"s":"l2","t":43.9,"p":1.24115},{"s":"l2","t":48.3,"p":1.24083},{"s":"l2","t":50.3,"p":1.24173},{"s":"l2","t":51.9,"p":1.2439},{"s":"l2","t":54,"p":1.24578},{"s":"l2","t":56,"p":1.24057},{"s":"l2","t":59,"p":1.23826},{"s":"l2","t":61.3,"p":1.23745},{"s":"l2","t":62.7,"p":1.23753},{"s":"l2","t":67.7,"p":1.23826},{"s":"l2","t":71.4,"p":1.23985},{"s":"l2","t":75.1,"p":1.24072},{"s":"l2","t":76.4,"p":1.24066},{"s":"l2","t":81.1,"p":1.24107},{"s":"l2","t":82.8,"p":1.24057},{"s":"l2","t":86.2,"p":1.23904},{"s":"l2","t":89.5,"p":1.23956},{"s":"l2","t":93.2,"p":1.23947},{"s":"l2","t":97.8,"p":1.24008},{"s":"l2","t":99.5,"p":1.24072},{"s":"l2","t":101.8,"p":1.24332},{"s":"l2","t":102.9,"p":1.24636},{"s":"l2","t":103.6,"p":1.24303},{"s":"l2","t":104.8,"p":1.2413},{"s":"l2","t":106.4,"p":1.23956},{"s":"l2","t":107.8,"p":1.23378},{"s":"l2","t":110.5,"p":1.23117},{"s":"l2","t":115.5,"p":1.22807},{"s":"l2","t":117.8,"p":1.22828},{"s":"l2","t":121.9,"p":1.2288},{"s":"l2","t":122.9,"p":1.23001},{"s":"l2","t":124.9,"p":1.23117},{"s":"l2","t":126.7,"p":1.23334},{"s":"l2","t":127.6,"p":1.23262},{"s":"l2","t":130,"p":1.23001},{"s":"l2","t":136,"p":1.23065},{"s":"l2","t":138.7,"p":1.23053},{"s":"l2","t":141.3,"p":1.23024},{"s":"l2","t":148,"p":1.23059},{"s":"l2","t":150.1,"p":1.23053},{"s":"l2","t":151.4,"p":1.23088},{"s":"l2","t":152.1,"p":1.22509},{"s":"l2","t":152.8,"p":1.22408},{"s":"l2","t":155.1,"p":1.22385},{"s":"l2","t":160.8,"p":1.22518},{"s":"l2","t":170.9,"p":1.22524},{"s":"l2","t":172.2,"p":1.22683},{"s":"l2","t":173.9,"p":1.22741},{"s":"l2","t":176.6,"p":1.22689},{"s":"l2","t":183.6,"p":1.22755},{"s":"l2","t":186.3,"p":1.22698},{"s":"l2","t":192.3,"p":1.22712},{"s":"l2","t":196.3,"p":1.2266},{"s":"l2","t":199.7,"p":1.22553},{"s":"l2","t":201.7,"p":1.22562},{"s":"l2","t":203.5,"p":1.22755},{"s":"l2","t":204.5,"p":1.22451},{"s":"l2","t":205.9,"p":1.21815},{"s":"l2","t":206.9,"p":1.21641},{"s":"l2","t":207.9,"p":1.21641},{"s":"l2","t":209.1,"p":1.21598},{"s":"l2","t":210.6,"p":1.21684},{"s":"l2","t":212,"p":1.21699},{"s":"l2","t":217.4,"p":1.21684},{"s":"l2","t":220,"p":1.21641},{"s":"l2","t":221.8,"p":1.21569},{"s":"l2","t":224.9,"p":1.21548},{"s":"l2","t":226.9,"p":1.21873},{"s":"l2","t":228.9,"p":1.22046},{"s":"l2","t":232,"p":1.22003},{"s":"l2","t":237.8,"p":1.22023},{"s":"l2","t":244,"p":1.22046},{"s":"l2","t":245.3,"p":1.22278},{"s":"l2","t":247.2,"p":1.22596},
{"s":"mid","t":-6,"p":1.24737},{"s":"mid","t":-4.8,"p":1.24708},{"s":"mid","t":-1.4,"p":1.24723},{"s":"mid","t":4,"p":1.2468},{"s":"mid","t":9,"p":1.24781},{"s":"mid","t":12.7,"p":1.24743},{"s":"mid","t":17,"p":1.24882},{"s":"mid","t":17.9,"p":1.24925},{"s":"mid","t":26.1,"p":1.25021},{"s":"mid","t":29.8,"p":1.25122},{"s":"mid","t":31.8,"p":1.25287},{"s":"mid","t":34.8,"p":1.2538},{"s":"mid","t":36.8,"p":1.25331},{"s":"mid","t":38.2,"p":1.25206},{"s":"mid","t":41.5,"p":1.25134},{"s":"mid","t":46.2,"p":1.25085},{"s":"mid","t":50,"p":1.25033},{"s":"mid","t":51.9,"p":1.24911},{"s":"mid","t":54,"p":1.2481},{"s":"mid","t":56,"p":1.24723},{"s":"mid","t":60.3,"p":1.24477},{"s":"mid","t":62.7,"p":1.24376},{"s":"mid","t":69.7,"p":1.24355},{"s":"mid","t":73.8,"p":1.24303},{"s":"mid","t":77.1,"p":1.24274},{"s":"mid","t":81.8,"p":1.24332},{"s":"mid","t":84.5,"p":1.24448},{"s":"mid","t":87.2,"p":1.24564},{"s":"mid","t":91.2,"p":1.24636},{"s":"mid","t":98.9,"p":1.24671},{"s":"mid","t":103,"p":1.24789},{"s":"mid","t":104.8,"p":1.24752},{"s":"mid","t":107,"p":1.2465},{"s":"mid","t":108.9,"p":1.24462},{"s":"mid","t":111.2,"p":1.24245},{"s":"mid","t":112.8,"p":1.24095},{"s":"mid","t":121.9,"p":1.23927},{"s":"mid","t":123.9,"p":1.23797},{"s":"mid","t":128.3,"p":1.23638},{"s":"mid","t":131.6,"p":1.23508},{"s":"mid","t":134,"p":1.23459},{"s":"mid","t":140.7,"p":1.23421},{"s":"mid","t":150.7,"p":1.23392},{"s":"mid","t":152.1,"p":1.23276},{"s":"mid","t":154.8,"p":1.23117},{"s":"mid","t":157.5,"p":1.23074},{"s":"mid","t":164.8,"p":1.2303},{"s":"mid","t":170.5,"p":1.23024},{"s":"mid","t":172.2,"p":1.23088},{"s":"mid","t":176.9,"p":1.23082},{"s":"mid","t":190.3,"p":1.23053},{"s":"mid","t":197.7,"p":1.2303},{"s":"mid","t":201.1,"p":1.22972},{"s":"mid","t":203.1,"p":1.22914},{"s":"mid","t":205.5,"p":1.22683},{"s":"mid","t":207.9,"p":1.22582},{"s":"mid","t":209.6,"p":1.22683},{"s":"mid","t":211.3,"p":1.22741},{"s":"mid","t":216.7,"p":1.22735},{"s":"mid","t":221.5,"p":1.22712},{"s":"mid","t":223.5,"p":1.22677},{"s":"mid","t":225.6,"p":1.22712},{"s":"mid","t":227.6,"p":1.22828},{"s":"mid","t":229,"p":1.22726},{"s":"mid","t":231,"p":1.2277},{"s":"mid","t":234.4,"p":1.22822},{"s":"mid","t":238.5,"p":1.22833},{"s":"mid","t":243.2,"p":1.22842},{"s":"mid","t":245.9,"p":1.22929},{"s":"mid","t":247.2,"p":1.22972}],
"slow":[
{"seg":1,"d":"up","t":-6.1,"p":1.24361},{"seg":1,"d":"up","t":-4.5,"p":1.24462},{"seg":1,"d":"up","t":-2.2,"p":1.245},{"seg":1,"d":"up","t":0.2,"p":1.24514},{"seg":1,"d":"up","t":4.3,"p":1.24535},{"seg":1,"d":"up","t":9.5,"p":1.24558},
{"seg":2,"d":"down","t":9.5,"p":1.24558},{"seg":2,"d":"down","t":12.5,"p":1.24578},
{"seg":3,"d":"up","t":12.5,"p":1.24578},{"seg":3,"d":"up","t":17.1,"p":1.24616},{"seg":3,"d":"up","t":18,"p":1.24659},{"seg":3,"d":"up","t":30,"p":1.24694},{"seg":3,"d":"up","t":31.8,"p":1.24732},{"seg":3,"d":"up","t":36.8,"p":1.24762},
{"seg":4,"d":"down","t":36.8,"p":1.24762},{"seg":4,"d":"down","t":38.8,"p":1.24772},
{"seg":5,"d":"up","t":38.8,"p":1.24772},{"seg":5,"d":"up","t":42.2,"p":1.24795},
{"seg":6,"d":"down","t":42.2,"p":1.24795},{"seg":6,"d":"down","t":45.2,"p":1.24824},{"seg":6,"d":"down","t":48.5,"p":1.24833},
{"seg":7,"d":"up","t":48.5,"p":1.24833},{"seg":7,"d":"up","t":50,"p":1.24838},{"seg":7,"d":"up","t":53.3,"p":1.24853},
{"seg":8,"d":"down","t":53.3,"p":1.24853},{"seg":8,"d":"down","t":54,"p":1.24847},{"seg":8,"d":"down","t":60,"p":1.24818},{"seg":8,"d":"down","t":66.5,"p":1.24824},{"seg":8,"d":"down","t":72,"p":1.2481},{"seg":8,"d":"down","t":78,"p":1.24795},{"seg":8,"d":"down","t":82.6,"p":1.24767},
{"seg":9,"d":"up","t":82.6,"p":1.24767},{"seg":9,"d":"up","t":86.1,"p":1.24775},{"seg":9,"d":"up","t":98.9,"p":1.24781},
{"seg":10,"d":"down","t":98.9,"p":1.24781},{"seg":10,"d":"down","t":103,"p":1.24781},{"seg":10,"d":"down","t":106.8,"p":1.2476},{"seg":10,"d":"down","t":109.4,"p":1.24723},{"seg":10,"d":"down","t":113,"p":1.24659},{"seg":10,"d":"down","t":117,"p":1.24627},{"seg":10,"d":"down","t":117.9,"p":1.24578},{"seg":10,"d":"down","t":121.1,"p":1.24558},{"seg":10,"d":"down","t":126.4,"p":1.2454},{"seg":10,"d":"down","t":129.9,"p":1.24483},{"seg":10,"d":"down","t":132.9,"p":1.24362},{"seg":10,"d":"down","t":137.3,"p":1.24231},{"seg":10,"d":"down","t":140,"p":1.24165},{"seg":10,"d":"down","t":144,"p":1.2413},{"seg":10,"d":"down","t":150.7,"p":1.24101},{"seg":10,"d":"down","t":152.4,"p":1.24037},{"seg":10,"d":"down","t":159.8,"p":1.23899},{"seg":10,"d":"down","t":163.8,"p":1.23849},{"seg":10,"d":"down","t":168.9,"p":1.23817},{"seg":10,"d":"down","t":173.6,"p":1.23806},{"seg":10,"d":"down","t":179.3,"p":1.23768},{"seg":10,"d":"down","t":181.3,"p":1.23716},{"seg":10,"d":"down","t":186.3,"p":1.23522},{"seg":10,"d":"down","t":192.3,"p":1.23407},{"seg":10,"d":"down","t":197.7,"p":1.23377},{"seg":10,"d":"down","t":202.1,"p":1.23314},{"seg":10,"d":"down","t":205.9,"p":1.23218},{"seg":10,"d":"down","t":208.2,"p":1.23108},
{"seg":11,"d":"up","t":208.2,"p":1.23108},{"seg":11,"d":"up","t":210.4,"p":1.23074},
{"seg":12,"d":"down","t":210.4,"p":1.23074},{"seg":12,"d":"down","t":214.7,"p":1.23036},{"seg":12,"d":"down","t":220,"p":1.23024},{"seg":12,"d":"down","t":224.2,"p":1.22995},{"seg":12,"d":"down","t":227.6,"p":1.22964},{"seg":12,"d":"down","t":230.3,"p":1.22949},
{"seg":13,"d":"up","t":230.3,"p":1.22949},{"seg":13,"d":"up","t":235,"p":1.22914},{"seg":13,"d":"up","t":238.5,"p":1.22894},{"seg":13,"d":"up","t":247.2,"p":1.22894}],
"fast":[
{"seg":1,"d":"down","t":-5.1,"p":1.24752},{"seg":1,"d":"down","t":-2.5,"p":1.24737},{"seg":1,"d":"down","t":-1,"p":1.24737},{"seg":1,"d":"down","t":0,"p":1.2481},{"seg":1,"d":"down","t":1.3,"p":1.24694},{"seg":1,"d":"down","t":2.8,"p":1.24674},
{"seg":2,"d":"up","t":2.8,"p":1.24674},{"seg":2,"d":"up","t":5.1,"p":1.24694},{"seg":2,"d":"up","t":6.9,"p":1.24752},
{"seg":3,"d":"down","t":6.9,"p":1.24752},{"seg":3,"d":"down","t":8.4,"p":1.24737},{"seg":3,"d":"down","t":9.2,"p":1.2481},{"seg":3,"d":"down","t":10.7,"p":1.24766},{"seg":3,"d":"down","t":11.9,"p":1.24743},
{"seg":4,"d":"up","t":11.9,"p":1.24743},{"seg":4,"d":"up","t":14.8,"p":1.24752},{"seg":4,"d":"up","t":16.5,"p":1.2481},{"seg":4,"d":"up","t":17.1,"p":1.24882},{"seg":4,"d":"up","t":17.8,"p":1.25229},{"seg":4,"d":"up","t":18.6,"p":1.25258},
{"seg":5,"d":"down","t":18.6,"p":1.25258},{"seg":5,"d":"down","t":20.1,"p":1.25345},{"seg":5,"d":"down","t":22.1,"p":1.25461},{"seg":5,"d":"down","t":23.3,"p":1.25287},
{"seg":6,"d":"up","t":23.3,"p":1.25287},{"seg":6,"d":"up","t":24.4,"p":1.25229},{"seg":6,"d":"up","t":27.7,"p":1.2533},{"seg":6,"d":"up","t":30.6,"p":1.25548},{"seg":6,"d":"up","t":32,"p":1.25649},
{"seg":7,"d":"down","t":32,"p":1.25649},{"seg":7,"d":"down","t":34,"p":1.25519},{"seg":7,"d":"down","t":35.3,"p":1.25374},{"seg":7,"d":"down","t":37,"p":1.25056},{"seg":7,"d":"down","t":38.2,"p":1.24882},{"seg":7,"d":"down","t":39.9,"p":1.24867},{"seg":7,"d":"down","t":42.9,"p":1.24882},{"seg":7,"d":"down","t":44.6,"p":1.2481},{"seg":7,"d":"down","t":47.5,"p":1.24724},{"seg":7,"d":"down","t":48.7,"p":1.24753},
{"seg":8,"d":"up","t":48.7,"p":1.24753},{"seg":8,"d":"up","t":51.6,"p":1.2481},{"seg":8,"d":"up","t":53.4,"p":1.24868},
{"seg":9,"d":"down","t":53.4,"p":1.24868},{"seg":9,"d":"down","t":54.8,"p":1.24825},{"seg":9,"d":"down","t":55.4,"p":1.24637},{"seg":9,"d":"down","t":56.3,"p":1.24362},{"seg":9,"d":"down","t":59.2,"p":1.24333},{"seg":9,"d":"down","t":61.2,"p":1.2429},{"seg":9,"d":"down","t":61.8,"p":1.24269},
{"seg":10,"d":"up","t":61.8,"p":1.24269},{"seg":10,"d":"up","t":64.5,"p":1.24252},{"seg":10,"d":"up","t":67.7,"p":1.24347},{"seg":10,"d":"up","t":69.7,"p":1.24356},
{"seg":11,"d":"down","t":69.7,"p":1.24356},{"seg":11,"d":"down","t":75,"p":1.24333},{"seg":11,"d":"down","t":79.7,"p":1.2429},
{"seg":12,"d":"up","t":79.7,"p":1.2429},{"seg":12,"d":"up","t":80.8,"p":1.24275},{"seg":12,"d":"up","t":82.6,"p":1.24449},{"seg":12,"d":"up","t":83.8,"p":1.24463},{"seg":12,"d":"up","t":86.1,"p":1.2468},{"seg":12,"d":"up","t":87.6,"p":1.24796},{"seg":12,"d":"up","t":89.6,"p":1.24802},{"seg":12,"d":"up","t":92,"p":1.24918},{"seg":12,"d":"up","t":92.8,"p":1.24926},
{"seg":13,"d":"down","t":92.8,"p":1.24926},{"seg":13,"d":"down","t":94.9,"p":1.24955},{"seg":13,"d":"down","t":96.6,"p":1.24912},{"seg":13,"d":"down","t":97.8,"p":1.24796},{"seg":13,"d":"down","t":99,"p":1.24737},{"seg":13,"d":"down","t":101.9,"p":1.2465},
{"seg":14,"d":"up","t":101.9,"p":1.2465},{"seg":14,"d":"up","t":102.8,"p":1.24708},
{"seg":15,"d":"down","t":102.8,"p":1.24708},{"seg":15,"d":"down","t":103.6,"p":1.24477},{"seg":15,"d":"down","t":106.5,"p":1.24404},{"seg":15,"d":"down","t":109.5,"p":1.23985},{"seg":15,"d":"down","t":111.8,"p":1.23782},{"seg":15,"d":"down","t":114.7,"p":1.23638},{"seg":15,"d":"down","t":116.5,"p":1.23545},
{"seg":16,"d":"up","t":116.5,"p":1.23545},{"seg":16,"d":"up","t":118.9,"p":1.23516},{"seg":16,"d":"up","t":122.3,"p":1.23623},{"seg":16,"d":"up","t":125,"p":1.23695},
{"seg":17,"d":"down","t":125,"p":1.23695},{"seg":17,"d":"down","t":127.6,"p":1.23609},{"seg":17,"d":"down","t":129.4,"p":1.23348},{"seg":17,"d":"down","t":130,"p":1.23267},
{"seg":18,"d":"up","t":130,"p":1.23267},{"seg":18,"d":"up","t":132.9,"p":1.23377},{"seg":18,"d":"up","t":134.6,"p":1.23464},
{"seg":19,"d":"down","t":134.6,"p":1.23464},{"seg":19,"d":"down","t":139.1,"p":1.23429},{"seg":19,"d":"down","t":140.9,"p":1.23348},{"seg":19,"d":"down","t":142.7,"p":1.2329},
{"seg":20,"d":"up","t":142.7,"p":1.2329},{"seg":20,"d":"up","t":145,"p":1.23218},{"seg":20,"d":"up","t":146.1,"p":1.23276},{"seg":20,"d":"up","t":151,"p":1.2329},
{"seg":21,"d":"down","t":151,"p":1.2329},{"seg":21,"d":"down","t":151.6,"p":1.23204},{"seg":21,"d":"down","t":152,"p":1.2295},{"seg":21,"d":"down","t":153,"p":1.22793},
{"seg":22,"d":"up","t":153,"p":1.22793},{"seg":22,"d":"up","t":155.5,"p":1.2288},{"seg":22,"d":"up","t":156.5,"p":1.229},{"seg":22,"d":"up","t":158,"p":1.23059},{"seg":22,"d":"up","t":159.8,"p":1.2316},
{"seg":23,"d":"down","t":159.8,"p":1.2316},{"seg":23,"d":"down","t":161.2,"p":1.23175},{"seg":23,"d":"down","t":163,"p":1.23045},{"seg":23,"d":"down","t":165.9,"p":1.22914},
{"seg":24,"d":"up","t":165.9,"p":1.22914},{"seg":24,"d":"up","t":169.7,"p":1.22929},
{"seg":25,"d":"down","t":169.7,"p":1.22929},{"seg":25,"d":"down","t":172,"p":1.22891},
{"seg":26,"d":"up","t":172,"p":1.22891},{"seg":26,"d":"up","t":175.5,"p":1.22929},{"seg":26,"d":"up","t":176.7,"p":1.23088},
{"seg":27,"d":"down","t":176.7,"p":1.23088},{"seg":27,"d":"down","t":180.2,"p":1.23088},
{"seg":28,"d":"up","t":180.2,"p":1.23088},{"seg":28,"d":"up","t":183.2,"p":1.23189},
{"seg":29,"d":"down","t":183.2,"p":1.23189},{"seg":29,"d":"down","t":184.9,"p":1.23073},{"seg":29,"d":"down","t":187.3,"p":1.23045},{"seg":29,"d":"down","t":188.1,"p":1.22958},{"seg":29,"d":"down","t":189.4,"p":1.22914},
{"seg":30,"d":"up","t":189.4,"p":1.22914},{"seg":30,"d":"up","t":190.8,"p":1.22987},
{"seg":31,"d":"down","t":190.8,"p":1.22987},{"seg":31,"d":"down","t":193,"p":1.22813},{"seg":31,"d":"down","t":195,"p":1.22813},
{"seg":32,"d":"up","t":195,"p":1.22813},{"seg":32,"d":"up","t":198,"p":1.22856},{"seg":32,"d":"up","t":200,"p":1.2293},{"seg":32,"d":"up","t":202,"p":1.23},{"seg":32,"d":"up","t":203,"p":1.23045},
{"seg":33,"d":"down","t":203,"p":1.23045},{"seg":33,"d":"down","t":204.2,"p":1.22712},{"seg":33,"d":"down","t":204.7,"p":1.2236},{"seg":33,"d":"down","t":207,"p":1.22133},
{"seg":34,"d":"up","t":207,"p":1.22133},{"seg":34,"d":"up","t":208.2,"p":1.2228},{"seg":34,"d":"up","t":209.5,"p":1.22596},{"seg":34,"d":"up","t":211.2,"p":1.22828},{"seg":34,"d":"up","t":213,"p":1.23059},
{"seg":35,"d":"down","t":213,"p":1.23059},{"seg":35,"d":"down","t":214.7,"p":1.22972},{"seg":35,"d":"down","t":216,"p":1.22914},
{"seg":36,"d":"up","t":216,"p":1.22914},{"seg":36,"d":"up","t":218,"p":1.2295},
{"seg":37,"d":"down","t":218,"p":1.2295},{"seg":37,"d":"down","t":220.6,"p":1.22914},{"seg":37,"d":"down","t":222,"p":1.2277},{"seg":37,"d":"down","t":223.8,"p":1.22654},{"seg":37,"d":"down","t":225.6,"p":1.22553},{"seg":37,"d":"down","t":227.3,"p":1.22495},
{"seg":38,"d":"up","t":227.3,"p":1.22495},{"seg":38,"d":"up","t":229.4,"p":1.22567},{"seg":38,"d":"up","t":231.7,"p":1.22813},{"seg":38,"d":"up","t":233.2,"p":1.23001},{"seg":38,"d":"up","t":235.2,"p":1.23117},
{"seg":39,"d":"down","t":235.2,"p":1.23117},{"seg":39,"d":"down","t":237.6,"p":1.23059},{"seg":39,"d":"down","t":240,"p":1.23001},{"seg":39,"d":"down","t":246.9,"p":1.23001}],
"mom":[
{"seg":1,"d":"down","t":-6,"v":-4.9},{"seg":1,"d":"down","t":-5,"v":-15.9},{"seg":1,"d":"down","t":-4,"v":0.5},{"seg":1,"d":"down","t":-3,"v":-12},{"seg":1,"d":"down","t":-2,"v":-8.4},
{"seg":2,"d":"up","t":-2,"v":-8.4},{"seg":2,"d":"up","t":0,"v":18.3},{"seg":2,"d":"up","t":1,"v":3.2},{"seg":2,"d":"up","t":2,"v":3.2},{"seg":2,"d":"up","t":3,"v":12.1},{"seg":2,"d":"up","t":4,"v":4.9},
{"seg":3,"d":"down","t":4,"v":4.9},{"seg":3,"d":"down","t":6,"v":-6.1},{"seg":3,"d":"down","t":7,"v":-1.3},{"seg":3,"d":"down","t":8,"v":-7},
{"seg":4,"d":"up","t":8,"v":-7},{"seg":4,"d":"up","t":9,"v":10.3},{"seg":4,"d":"up","t":10,"v":10.3},
{"seg":5,"d":"down","t":10,"v":10.3},{"seg":5,"d":"down","t":11,"v":-31.6},{"seg":5,"d":"down","t":12,"v":-0.4},
{"seg":6,"d":"up","t":12,"v":-0.4},{"seg":6,"d":"up","t":13,"v":6.7},{"seg":6,"d":"up","t":14,"v":12.1},{"seg":6,"d":"up","t":15,"v":12.6},{"seg":6,"d":"up","t":16,"v":9.4},{"seg":6,"d":"up","t":17,"v":15.6},{"seg":6,"d":"up","t":18,"v":44.2},{"seg":6,"d":"up","t":19,"v":29},{"seg":6,"d":"up","t":20,"v":17.4},{"seg":6,"d":"up","t":21,"v":20.1},{"seg":6,"d":"up","t":22,"v":21.9},{"seg":6,"d":"up","t":23,"v":21.5},{"seg":6,"d":"up","t":24,"v":11.2},{"seg":6,"d":"up","t":25,"v":27.2},{"seg":6,"d":"up","t":26,"v":46.8},{"seg":6,"d":"up","t":27,"v":43.2},{"seg":6,"d":"up","t":28,"v":39.7},{"seg":6,"d":"up","t":29,"v":39.7},{"seg":6,"d":"up","t":30,"v":45.9},{"seg":6,"d":"up","t":31,"v":54.8},{"seg":6,"d":"up","t":32,"v":51.8},
{"seg":7,"d":"down","t":32,"v":51.8},{"seg":7,"d":"down","t":33,"v":-21.8},{"seg":7,"d":"down","t":34,"v":-9.3},{"seg":7,"d":"down","t":35,"v":-18.2},{"seg":7,"d":"down","t":36,"v":-27.1},{"seg":7,"d":"down","t":37,"v":-31.6},{"seg":7,"d":"down","t":38,"v":-34.3},{"seg":7,"d":"down","t":39,"v":-12},{"seg":7,"d":"down","t":40,"v":-20.9},{"seg":7,"d":"down","t":41,"v":-27.1},{"seg":7,"d":"down","t":42,"v":-36},{"seg":7,"d":"down","t":43,"v":-43.2},{"seg":7,"d":"down","t":44,"v":-53},{"seg":7,"d":"down","t":45,"v":-50.3},{"seg":7,"d":"down","t":46,"v":-58.3},{"seg":7,"d":"down","t":47,"v":-58.3},{"seg":7,"d":"down","t":48,"v":-47.6},{"seg":7,"d":"down","t":49,"v":-33.4},{"seg":7,"d":"down","t":50,"v":-19.1},{"seg":7,"d":"down","t":51,"v":-4},
{"seg":8,"d":"up","t":51,"v":-4},{"seg":8,"d":"up","t":52,"v":4.9},{"seg":8,"d":"up","t":53,"v":9},
{"seg":9,"d":"down","t":53,"v":9},{"seg":9,"d":"down","t":54,"v":-31.6},{"seg":9,"d":"down","t":55,"v":-38.7},{"seg":9,"d":"down","t":56,"v":-53},{"seg":9,"d":"down","t":57,"v":-42.3},{"seg":9,"d":"down","t":58,"v":-23.6},{"seg":9,"d":"down","t":59,"v":-34.3},{"seg":9,"d":"down","t":60,"v":-22.7},{"seg":9,"d":"down","t":61,"v":-28.9},{"seg":9,"d":"down","t":62,"v":-36},{"seg":9,"d":"down","t":63,"v":-23.6},{"seg":9,"d":"down","t":64,"v":-32.5},{"seg":9,"d":"down","t":65,"v":-28.9},{"seg":9,"d":"down","t":66,"v":-36},{"seg":9,"d":"down","t":67,"v":-29.8},{"seg":9,"d":"down","t":68,"v":-27.1},{"seg":9,"d":"down","t":69,"v":-23.9},{"seg":9,"d":"down","t":70,"v":-10.2},
{"seg":10,"d":"up","t":70,"v":-10.2},{"seg":10,"d":"up","t":71,"v":10.3},{"seg":10,"d":"up","t":72,"v":-3},{"seg":10,"d":"up","t":73,"v":-7},{"seg":10,"d":"up","t":74,"v":13},{"seg":10,"d":"up","t":75,"v":-4.9},{"seg":10,"d":"up","t":76,"v":5.8},{"seg":10,"d":"up","t":77,"v":16.5},
{"seg":11,"d":"down","t":77,"v":16.5},{"seg":11,"d":"down","t":78,"v":-2.2},{"seg":11,"d":"down","t":79,"v":17.4},{"seg":11,"d":"down","t":80,"v":-14.7},
{"seg":12,"d":"up","t":80,"v":-14.7},{"seg":12,"d":"up","t":81,"v":7.6},{"seg":12,"d":"up","t":82,"v":22.8},{"seg":12,"d":"up","t":83,"v":4.1},{"seg":12,"d":"up","t":84,"v":36.1},{"seg":12,"d":"up","t":85,"v":40.3},{"seg":12,"d":"up","t":86,"v":39.7},{"seg":12,"d":"up","t":87,"v":32.6},{"seg":12,"d":"up","t":88,"v":26.3},{"seg":12,"d":"up","t":89,"v":37.9},{"seg":12,"d":"up","t":90,"v":27.2},{"seg":12,"d":"up","t":91,"v":43.3},{"seg":12,"d":"up","t":92,"v":43.3},{"seg":12,"d":"up","t":94,"v":35.2},{"seg":12,"d":"up","t":95,"v":48.6},{"seg":12,"d":"up","t":96,"v":32.6},{"seg":12,"d":"up","t":97,"v":21},{"seg":12,"d":"up","t":98,"v":20.1},
{"seg":13,"d":"down","t":98,"v":20.1},{"seg":13,"d":"down","t":99,"v":-1.3},{"seg":13,"d":"down","t":100,"v":-16.4},{"seg":13,"d":"down","t":101,"v":-25.3},{"seg":13,"d":"down","t":102,"v":-16.4},
{"seg":14,"d":"up","t":102,"v":-16.4},{"seg":14,"d":"up","t":103,"v":3.5},
{"seg":15,"d":"down","t":103,"v":3.5},{"seg":15,"d":"down","t":104,"v":-39.6},{"seg":15,"d":"down","t":105,"v":-36},{"seg":15,"d":"down","t":106,"v":-53.9},{"seg":15,"d":"down","t":107,"v":-61.9},{"seg":15,"d":"down","t":108,"v":-71.7},{"seg":15,"d":"down","t":109,"v":-67.2},{"seg":15,"d":"down","t":111,"v":-67.2},{"seg":15,"d":"down","t":112,"v":-70.8},{"seg":15,"d":"down","t":114,"v":-68.1},{"seg":15,"d":"down","t":115,"v":-69},{"seg":15,"d":"down","t":116,"v":-61.9},{"seg":15,"d":"down","t":117,"v":-62.8},{"seg":15,"d":"down","t":118,"v":-74.4},{"seg":15,"d":"down","t":119,"v":-60.1},{"seg":15,"d":"down","t":120,"v":-56.9},{"seg":15,"d":"down","t":121,"v":-64.5},{"seg":15,"d":"down","t":122,"v":-53},{"seg":15,"d":"down","t":123,"v":-8.4},{"seg":15,"d":"down","t":124,"v":-9.8},{"seg":15,"d":"down","t":125,"v":-15.9},{"seg":15,"d":"down","t":126,"v":-14.7},{"seg":15,"d":"down","t":127,"v":-11.1},{"seg":15,"d":"down","t":128,"v":-12.3},{"seg":15,"d":"down","t":129,"v":-35.1},{"seg":15,"d":"down","t":130,"v":-29.8},{"seg":15,"d":"down","t":131,"v":-11.1},{"seg":15,"d":"down","t":132,"v":-3.1},{"seg":15,"d":"down","t":133,"v":-8.4},
{"seg":16,"d":"up","t":133,"v":-8.4},{"seg":16,"d":"up","t":134,"v":2.3},
{"seg":17,"d":"down","t":134,"v":2.3},{"seg":17,"d":"down","t":135,"v":-17.3},{"seg":17,"d":"down","t":136,"v":-12.9},{"seg":17,"d":"down","t":137,"v":-18.2},{"seg":17,"d":"down","t":138,"v":-22.7},{"seg":17,"d":"down","t":139,"v":-31.6},{"seg":17,"d":"down","t":140,"v":-35.5},{"seg":17,"d":"down","t":141,"v":-28},{"seg":17,"d":"down","t":142,"v":-15.5},{"seg":17,"d":"down","t":143,"v":-12.9},
{"seg":18,"d":"up","t":143,"v":-12.9},{"seg":18,"d":"up","t":144,"v":0.5},{"seg":18,"d":"up","t":145,"v":4.9},
{"seg":19,"d":"down","t":145,"v":4.9},{"seg":19,"d":"down","t":146,"v":-14.7},{"seg":19,"d":"down","t":147,"v":-20},{"seg":19,"d":"down","t":148,"v":-15.5},{"seg":19,"d":"down","t":149,"v":-38.7},{"seg":19,"d":"down","t":150,"v":0.5},{"seg":19,"d":"down","t":151,"v":-17.3},{"seg":19,"d":"down","t":152,"v":-47.6},{"seg":19,"d":"down","t":153,"v":-49.4},{"seg":19,"d":"down","t":154,"v":-35.1},{"seg":19,"d":"down","t":155,"v":-10.2},{"seg":19,"d":"down","t":156,"v":-13.8},{"seg":19,"d":"down","t":157,"v":-3.1},{"seg":19,"d":"down","t":158,"v":-0.4},{"seg":19,"d":"down","t":159,"v":-12},{"seg":19,"d":"down","t":160,"v":-12},{"seg":19,"d":"down","t":161,"v":-13.8},{"seg":19,"d":"down","t":162,"v":-21.8},{"seg":19,"d":"down","t":163,"v":-28},{"seg":19,"d":"down","t":164,"v":-21.8},{"seg":19,"d":"down","t":165,"v":-31.6},{"seg":19,"d":"down","t":166,"v":-26.2},
{"seg":20,"d":"up","t":166,"v":-26.2},{"seg":20,"d":"up","t":167,"v":14.8},{"seg":20,"d":"up","t":168,"v":8.5},{"seg":20,"d":"up","t":169,"v":3.2},
{"seg":21,"d":"down","t":169,"v":3.2},{"seg":21,"d":"down","t":170,"v":-22.7},{"seg":21,"d":"down","t":171,"v":-32.5},{"seg":21,"d":"down","t":172,"v":-67.2},{"seg":21,"d":"down","t":173,"v":-47.6},{"seg":21,"d":"down","t":174,"v":-25.3},{"seg":21,"d":"down","t":175,"v":-31.6},{"seg":21,"d":"down","t":176,"v":-12},
{"seg":22,"d":"up","t":176,"v":-12},{"seg":22,"d":"up","t":177,"v":40.6},{"seg":22,"d":"up","t":178,"v":15.6},{"seg":22,"d":"up","t":179,"v":6.7},{"seg":22,"d":"up","t":180,"v":17.4},{"seg":22,"d":"up","t":181,"v":17.4},{"seg":22,"d":"up","t":182,"v":21.9},{"seg":22,"d":"up","t":183,"v":26.3},{"seg":22,"d":"up","t":184,"v":10.3},
{"seg":23,"d":"down","t":184,"v":10.3},{"seg":23,"d":"down","t":185,"v":0.5},{"seg":23,"d":"down","t":186,"v":-4.9},
{"seg":24,"d":"up","t":186,"v":-4.9},{"seg":24,"d":"up","t":187,"v":7.3},{"seg":24,"d":"up","t":188,"v":3.2},
{"seg":25,"d":"down","t":188,"v":3.2},{"seg":25,"d":"down","t":189,"v":-0.4},{"seg":25,"d":"down","t":190,"v":-0.4},{"seg":25,"d":"down","t":191,"v":-10.2},{"seg":25,"d":"down","t":192,"v":-36.9},{"seg":25,"d":"down","t":193,"v":-26.2},{"seg":25,"d":"down","t":194,"v":-23.2},{"seg":25,"d":"down","t":195,"v":-24.1},{"seg":25,"d":"down","t":196,"v":-21.8},{"seg":25,"d":"down","t":197,"v":-29.8},{"seg":25,"d":"down","t":198,"v":-28},{"seg":25,"d":"down","t":199,"v":-25.3},
{"seg":26,"d":"up","t":199,"v":-25.3},{"seg":26,"d":"up","t":200,"v":4.4},{"seg":26,"d":"up","t":201,"v":8},
{"seg":27,"d":"down","t":201,"v":8},{"seg":27,"d":"down","t":202,"v":-16.4},
{"seg":28,"d":"up","t":202,"v":-16.4},{"seg":28,"d":"up","t":203,"v":6.7},
{"seg":29,"d":"down","t":203,"v":6.7},{"seg":29,"d":"down","t":204,"v":-24.5},{"seg":29,"d":"down","t":205,"v":-38.7},{"seg":29,"d":"down","t":206,"v":-49.4},{"seg":29,"d":"down","t":207,"v":-35.1},{"seg":29,"d":"down","t":208,"v":-20},
{"seg":30,"d":"up","t":208,"v":-20},{"seg":30,"d":"up","t":209,"v":19.2},{"seg":30,"d":"up","t":210,"v":0.5},{"seg":30,"d":"up","t":211,"v":4.6},{"seg":30,"d":"up","t":212,"v":6.7},{"seg":30,"d":"up","t":213,"v":5.8},{"seg":30,"d":"up","t":214,"v":4},
{"seg":31,"d":"down","t":214,"v":4},{"seg":31,"d":"down","t":215,"v":-2.7},
{"seg":32,"d":"up","t":215,"v":-2.7},{"seg":32,"d":"up","t":216,"v":2.6},{"seg":32,"d":"up","t":217,"v":4},
{"seg":33,"d":"down","t":217,"v":4},{"seg":33,"d":"down","t":218,"v":-1.6},
{"seg":34,"d":"up","t":218,"v":-1.6},{"seg":34,"d":"up","t":219,"v":5.8},{"seg":34,"d":"up","t":220,"v":18.3},{"seg":34,"d":"up","t":221,"v":38.8},{"seg":34,"d":"up","t":222,"v":22.8},{"seg":34,"d":"up","t":223,"v":9.4},
{"seg":35,"d":"down","t":223,"v":9.4},{"seg":35,"d":"down","t":224,"v":-32.5},{"seg":35,"d":"down","t":225,"v":-37.3},{"seg":35,"d":"down","t":226,"v":-34.3},{"seg":35,"d":"down","t":227,"v":-36.9},{"seg":35,"d":"down","t":228,"v":-8.4},{"seg":35,"d":"down","t":229,"v":-12.9},
{"seg":36,"d":"up","t":229,"v":-12.9},{"seg":36,"d":"up","t":230,"v":0.5},{"seg":36,"d":"up","t":231,"v":5.5},{"seg":36,"d":"up","t":232,"v":8},{"seg":36,"d":"up","t":233,"v":5.5},{"seg":36,"d":"up","t":234,"v":12.6},{"seg":36,"d":"up","t":235,"v":12.1},{"seg":36,"d":"up","t":236,"v":5.8},{"seg":36,"d":"up","t":237,"v":13},{"seg":36,"d":"up","t":238,"v":19.2},{"seg":36,"d":"up","t":239,"v":11.2},{"seg":36,"d":"up","t":240,"v":54.8},{"seg":36,"d":"up","t":241,"v":37.9},{"seg":36,"d":"up","t":242,"v":34.3},{"seg":36,"d":"up","t":243,"v":7.6},{"seg":36,"d":"up","t":244,"v":46.8},{"seg":36,"d":"up","t":245,"v":24.5},
{"seg":37,"d":"down","t":245,"v":24.5},{"seg":37,"d":"down","t":246,"v":-10.2},{"seg":37,"d":"down","t":247,"v":-29}],
"kline":[
{"t":-6,"v":12.1},{"t":-5,"v":8},{"t":-4,"v":7.6},{"t":-3,"v":1.4},{"t":-2,"v":14.8},{"t":-1,"v":8.5},{"t":0,"v":4},{"t":1,"v":-9.3},{"t":2,"v":-40.5},{"t":3,"v":-51.2},{"t":4,"v":-54.4},{"t":5,"v":-24.5},{"t":6,"v":-3},{"t":7,"v":9.4},{"t":8,"v":-4.9},{"t":9,"v":10.3},{"t":10,"v":10.3},{"t":11,"v":-4.9},{"t":12,"v":-45},{"t":13,"v":-27.1},{"t":14,"v":6.7},{"t":15,"v":15.6},{"t":16,"v":12.1},{"t":17,"v":9.1},{"t":18,"v":20.1},{"t":19,"v":32.6},{"t":20,"v":27.2},{"t":21,"v":12.1},{"t":22,"v":8.5},{"t":23,"v":8.5},{"t":24,"v":8.5},{"t":25,"v":0.5},{"t":26,"v":-4},{"t":27,"v":0.5},{"t":28,"v":5.8},{"t":29,"v":25.4},{"t":30,"v":31.7},{"t":31,"v":38.8},{"t":32,"v":48.6},{"t":33,"v":21.9},{"t":34,"v":-28},{"t":35,"v":-71.7},{"t":36,"v":-71.7},{"t":37,"v":-71.7},{"t":38,"v":-71.7},{"t":39,"v":-60.1},{"t":40,"v":-53},{"t":41,"v":-46.4},{"t":42,"v":-49.4},{"t":43,"v":-53.9},{"t":44,"v":-58.3},{"t":45,"v":-62.2},{"t":46,"v":-61.9},{"t":47,"v":-55.6},{"t":48,"v":-42.3},{"t":49,"v":-26.2},{"t":50,"v":12},{"t":51,"v":38.8},{"t":52,"v":48.6},{"t":53,"v":44.1},{"t":54,"v":25.4},{"t":55,"v":-13.8},{"t":56,"v":-58.3},{"t":57,"v":-60.1},{"t":58,"v":-38.7},{"t":59,"v":-29.8},{"t":60,"v":-20.9},{"t":61,"v":-23},{"t":62,"v":-23},{"t":63,"v":-20.9},{"t":64,"v":-17.3},{"t":65,"v":0.5},{"t":66,"v":3.2},{"t":67,"v":16.5},{"t":68,"v":30.8},{"t":69,"v":50.4},{"t":70,"v":46.3},{"t":71,"v":46.3},{"t":72,"v":46.8},{"t":73,"v":49.5},{"t":74,"v":44.2},{"t":75,"v":45.1},{"t":76,"v":23.7},{"t":77,"v":-3},{"t":78,"v":-20},{"t":79,"v":0.5},{"t":80,"v":-3.1},{"t":81,"v":-3.1},{"t":82,"v":4},{"t":83,"v":13},{"t":84,"v":43.3},{"t":85,"v":43.3},{"t":86,"v":54},{"t":87,"v":44.2},{"t":88,"v":34.3},{"t":89,"v":29},{"t":90,"v":24.5},{"t":91,"v":31.7},{"t":92,"v":33.5},{"t":93,"v":37},{"t":94,"v":33.5},{"t":95,"v":27.2},{"t":96,"v":7.6},{"t":97,"v":-13.8},{"t":98,"v":-45.8},{"t":99,"v":-68.7},{"t":100,"v":-68.7},{"t":101,"v":-68.7},{"t":102,"v":-71.7},{"t":103,"v":-55.3},{"t":104,"v":-55.3},{"t":105,"v":-55.3},{"t":106,"v":-66.9},{"t":107,"v":-66.9},{"t":108,"v":-66.9},{"t":109,"v":-69.9},{"t":110,"v":-69},{"t":111,"v":-67.2},{"t":112,"v":-68.6},{"t":113,"v":-70.8},{"t":114,"v":-69.4},{"t":115,"v":-68.1},{"t":116,"v":-61.9},{"t":117,"v":-61},{"t":118,"v":-45.8},{"t":119,"v":-31.6},{"t":120,"v":-4},{"t":121,"v":16.5},{"t":122,"v":45},{"t":123,"v":54},{"t":124,"v":54},{"t":125,"v":50.4},{"t":126,"v":45},{"t":127,"v":21.9},{"t":128,"v":-8.4},{"t":129,"v":-38.7},{"t":130,"v":-55.6},{"t":131,"v":-44},{"t":132,"v":-13.8},{"t":133,"v":32.6},{"t":134,"v":43.3},{"t":135,"v":34.3},{"t":136,"v":23.7},{"t":137,"v":13},{"t":138,"v":16.5},{"t":139,"v":11.2},{"t":140,"v":5.8},{"t":141,"v":-3.1},{"t":142,"v":2.3},{"t":143,"v":9.9},{"t":144,"v":6.7},{"t":145,"v":3.2},{"t":146,"v":-4.9},{"t":147,"v":-10.6},{"t":148,"v":13},{"t":149,"v":23.7},{"t":150,"v":45},{"t":151,"v":33.5},{"t":152,"v":4},{"t":153,"v":-37},{"t":154,"v":-51.2},{"t":155,"v":-22.7},{"t":156,"v":4},{"t":157,"v":36.1},{"t":158,"v":45.9},{"t":159,"v":45},{"t":160,"v":36.1},{"t":161,"v":27.2},{"t":162,"v":16.5},{"t":163,"v":0.5},{"t":164,"v":-8.4},{"t":165,"v":-9.8},{"t":166,"v":-10.6},{"t":167,"v":-24.5},{"t":168,"v":-33.4},{"t":169,"v":-40.5},{"t":170,"v":-51.2},{"t":171,"v":-60.1},{"t":172,"v":-57.4},{"t":173,"v":-31.6},{"t":174,"v":13},{"t":175,"v":32.6},{"t":176,"v":41.5},{"t":177,"v":41.5},{"t":178,"v":16.5},{"t":179,"v":5.8},{"t":180,"v":-4},{"t":181,"v":-3.1},{"t":182,"v":5.8},{"t":183,"v":15.6},{"t":184,"v":11.2},{"t":185,"v":-1.3},{"t":186,"v":-41.4},{"t":187,"v":-46.4},{"t":188,"v":-35.1},{"t":189,"v":-24.5},{"t":190,"v":-27.1},{"t":191,"v":-29.8},{"t":192,"v":-33.4},{"t":193,"v":-38.7},{"t":194,"v":-51.2},{"t":195,"v":-57.4},{"t":196,"v":-49.4},{"t":197,"v":-19.1},{"t":198,"v":8.5},{"t":199,"v":11.2},{"t":200,"v":28.1},{"t":201,"v":13.9},{"t":202,"v":18.3},{"t":203,"v":18.3},{"t":204,"v":-4.9},{"t":205,"v":-38.7},{"t":206,"v":-71.7},{"t":207,"v":-61.9},{"t":208,"v":-40.5},{"t":209,"v":0.5},{"t":210,"v":23.7},{"t":211,"v":37.9},{"t":212,"v":32.6},{"t":213,"v":37.9},{"t":214,"v":31.7},{"t":215,"v":27.2},{"t":216,"v":24.5},{"t":217,"v":25.4},{"t":218,"v":29},{"t":219,"v":26.3},{"t":220,"v":23.7},{"t":221,"v":7.6},{"t":222,"v":-22.7},{"t":223,"v":-51.2},{"t":224,"v":-56.2},{"t":225,"v":-56.2},{"t":226,"v":-43.7},{"t":227,"v":-41.4},{"t":228,"v":0.5},{"t":229,"v":16.5},{"t":230,"v":40},{"t":231,"v":40.6},{"t":232,"v":53.4},{"t":233,"v":53.1},{"t":234,"v":52.7},{"t":235,"v":45.9},{"t":236,"v":39.7},{"t":237,"v":33.5},{"t":238,"v":29.9},{"t":239,"v":27.2},{"t":240,"v":26.3},{"t":241,"v":14.8},{"t":242,"v":2.3},{"t":243,"v":-28.4},{"t":244,"v":-28.6},{"t":245,"v":-28.9},{"t":246,"v":-33.4},{"t":247,"v":-52.1}],
"dline":[
{"t":-6,"v":9.4},{"t":-5,"v":8},{"t":-4,"v":7.6},{"t":-3,"v":5},{"t":-2,"v":8},{"t":-1,"v":8},{"t":0,"v":7.3},{"t":1,"v":-4.9},{"t":2,"v":-22.7},{"t":3,"v":-38.7},{"t":4,"v":-48.5},{"t":5,"v":-42.3},{"t":6,"v":-28},{"t":7,"v":-4.9},{"t":8,"v":0.5},{"t":9,"v":5},{"t":10,"v":0.5},{"t":11,"v":-4.9},{"t":12,"v":-21.8},{"t":13,"v":-30.7},{"t":14,"v":-21.8},{"t":15,"v":-1.3},{"t":16,"v":11.2},{"t":17,"v":13},{"t":18,"v":14.8},{"t":19,"v":21.9},{"t":20,"v":28.1},{"t":21,"v":24.5},{"t":22,"v":13},{"t":23,"v":9.4},{"t":24,"v":7.6},{"t":25,"v":4},{"t":26,"v":-0.4},{"t":27,"v":-1.3},{"t":28,"v":2.3},{"t":29,"v":13},{"t":30,"v":23.7},{"t":31,"v":32.6},{"t":32,"v":40.6},{"t":33,"v":32.6},{"t":34,"v":-12},{"t":35,"v":-38.7},{"t":36,"v":-60.1},{"t":37,"v":-71.7},{"t":38,"v":-71.7},{"t":39,"v":-67.2},{"t":40,"v":-60.1},{"t":41,"v":-54.8},{"t":42,"v":-49.4},{"t":43,"v":-50},{"t":44,"v":-53.9},{"t":45,"v":-57.4},{"t":46,"v":-60.4},{"t":47,"v":-57.4},{"t":48,"v":-53},{"t":49,"v":-42.3},{"t":50,"v":-24.5},{"t":51,"v":4},{"t":52,"v":30.8},{"t":53,"v":44.1},{"t":54,"v":37},{"t":55,"v":4},{"t":56,"v":-45.8},{"t":57,"v":-51.2},{"t":58,"v":-53},{"t":59,"v":-40.5},{"t":60,"v":-29.8},{"t":61,"v":-25.3},{"t":62,"v":-23.6},{"t":63,"v":-23.6},{"t":64,"v":-20},{"t":65,"v":-12},{"t":66,"v":2.3},{"t":67,"v":11.2},{"t":68,"v":21.9},{"t":69,"v":41.5},{"t":70,"v":45},{"t":71,"v":46.3},{"t":72,"v":47.2},{"t":73,"v":46.8},{"t":74,"v":46.3},{"t":75,"v":46.3},{"t":76,"v":32.6},{"t":77,"v":7.6},{"t":78,"v":-3.1},{"t":79,"v":-3.4},{"t":80,"v":-4},{"t":81,"v":1.4},{"t":82,"v":4},{"t":83,"v":7.6},{"t":84,"v":32.6},{"t":85,"v":39.7},{"t":86,"v":46.8},{"t":87,"v":47.7},{"t":88,"v":41.5},{"t":89,"v":35.2},{"t":90,"v":28.1},{"t":91,"v":28.6},{"t":92,"v":31.7},{"t":93,"v":34.4},{"t":94,"v":33.5},{"t":95,"v":30.8},{"t":96,"v":18.3},{"t":97,"v":-10.2},{"t":98,"v":-35.1},{"t":99,"v":-56.5},{"t":100,"v":-64.5},{"t":101,"v":-67.2},{"t":102,"v":-69.9},{"t":103,"v":-63.7},{"t":104,"v":-59.2},{"t":105,"v":-55.3},{"t":106,"v":-61.9},{"t":107,"v":-65.4},{"t":108,"v":-68.1},{"t":109,"v":-68.1},{"t":110,"v":-68.1},{"t":111,"v":-67.8},{"t":112,"v":-68},{"t":113,"v":-69},{"t":114,"v":-69.9},{"t":115,"v":-69.9},{"t":116,"v":-65.4},{"t":117,"v":-60.1},{"t":118,"v":-53},{"t":119,"v":-45.8},{"t":120,"v":-24.5},{"t":121,"v":21.9},{"t":122,"v":30.8},{"t":123,"v":40.6},{"t":124,"v":51.3},{"t":125,"v":53},{"t":126,"v":41.5},{"t":127,"v":37.9},{"t":128,"v":-4.9},{"t":129,"v":-22.7},{"t":130,"v":-38.7},{"t":131,"v":-44},{"t":132,"v":-31.6},{"t":133,"v":-4.9},{"t":134,"v":23.7},{"t":135,"v":36.1},{"t":136,"v":35.2},{"t":137,"v":24.5},{"t":138,"v":18.3},{"t":139,"v":14.8},{"t":140,"v":12.1},{"t":141,"v":4},{"t":142,"v":0.8},{"t":143,"v":3.2},{"t":144,"v":5},{"t":145,"v":5.8},{"t":146,"v":-1.3},{"t":147,"v":-8.4},{"t":148,"v":-1.3},{"t":149,"v":9.4},{"t":150,"v":28.1},{"t":151,"v":33.5},{"t":152,"v":23.7},{"t":153,"v":-10.2},{"t":154,"v":-30.7},{"t":155,"v":-36.6},{"t":156,"v":-20.9},{"t":157,"v":9.4},{"t":158,"v":30.8},{"t":159,"v":42.4},{"t":160,"v":42.4},{"t":161,"v":35.2},{"t":162,"v":23.7},{"t":163,"v":5.8},{"t":164,"v":-1.3},{"t":165,"v":-4.9},{"t":166,"v":-10.2},{"t":167,"v":-13.8},{"t":168,"v":-20.9},{"t":169,"v":-28},{"t":170,"v":-38.7},{"t":171,"v":-49.4},{"t":172,"v":-59.2},{"t":173,"v":-49.4},{"t":174,"v":-19.1},{"t":175,"v":13},{"t":176,"v":29.9},{"t":177,"v":38.8},{"t":178,"v":40.2},{"t":179,"v":30.8},{"t":180,"v":16.5},{"t":181,"v":2.3},{"t":182,"v":-1.3},{"t":183,"v":5},{"t":184,"v":11.2},{"t":185,"v":4},{"t":186,"v":-6.6},{"t":187,"v":-31.6},{"t":188,"v":-42.6},{"t":189,"v":-38.7},{"t":190,"v":-33.4},{"t":191,"v":-28},{"t":192,"v":-30.7},{"t":193,"v":-35.1},{"t":194,"v":-42.3},{"t":195,"v":-49.4},{"t":196,"v":-53},{"t":197,"v":-44},{"t":198,"v":-15.5},{"t":199,"v":0.5},{"t":200,"v":16},{"t":201,"v":15.1},{"t":202,"v":18},{"t":203,"v":15.6},{"t":204,"v":9.4},{"t":205,"v":-4.9},{"t":206,"v":-45.8},{"t":207,"v":-53},{"t":208,"v":-59.2},{"t":209,"v":-26.2},{"t":210,"v":-1.3},{"t":211,"v":20.1},{"t":212,"v":32.6},{"t":213,"v":36.1},{"t":214,"v":34.7},{"t":215,"v":33.5},{"t":216,"v":29},{"t":217,"v":26.2},{"t":218,"v":26.9},{"t":219,"v":26.9},{"t":220,"v":23.7},{"t":221,"v":14.8},{"t":222,"v":4},{"t":223,"v":-20.9},{"t":224,"v":-44},{"t":225,"v":-55.3},{"t":226,"v":-53},{"t":227,"v":-47.6},{"t":228,"v":-29.8},{"t":229,"v":-6.6},{"t":230,"v":18.3},{"t":231,"v":32.6},{"t":232,"v":45},{"t":233,"v":48.6},{"t":234,"v":52.7},{"t":235,"v":51.3},{"t":236,"v":45.9},{"t":237,"v":39.7},{"t":238,"v":34.3},{"t":239,"v":29.9},{"t":240,"v":26.9},{"t":241,"v":20.1},{"t":242,"v":13.9},{"t":243,"v":-6.6},{"t":244,"v":-19.1},{"t":245,"v":-28.4},{"t":246,"v":-30.7},{"t":247,"v":-37.8}]
},
"vconcat":[
{"width":1683,"height":890,"resolve":{"scale":{"color":"independent"}},"layer":[
{"data":{"name":"candles"},"mark":{"type":"rule","color":"#000000","strokeWidth":1},"encoding":{"x":{"field":"t","type":"quantitative","scale":{"domain":[-7.12,288.2],"nice":false,"zero":false,"padding":0},"axis":{"title":null,"orient":"bottom","values":[0,24,48,72,96,120,144,168,192,216,240,264,288],"labels":false,"ticks":false,"domain":true,"domainColor":"#4c525e","grid":true,"gridColor":"#e1ecf2","gridWidth":1}},"y":{"field":"l","type":"quantitative","scale":{"domain":[1.19124,1.2685],"nice":false,"zero":false},"axis":{"title":null,"orient":"right","values":[1.195,1.2,1.205,1.21,1.215,1.22,1.225,1.23,1.235,1.24,1.245,1.25,1.255,1.26,1.265],"format":".5f","grid":true,"gridColor":"#e1ecf2","gridWidth":1,"domain":true,"domainColor":"#4c525e","tickColor":"#4c525e","tickSize":5,"labelPadding":6,"labelFont":"Open Sans","labelFontSize":11.5,"labelColor":"#4c525e"}},"y2":{"field":"h"}}},
{"data":{"name":"candles"},"mark":{"type":"bar","size":5},"encoding":{"x":{"field":"t","type":"quantitative","scale":{"domain":[-7.12,288.2],"nice":false,"zero":false,"padding":0}},"y":{"field":"o","type":"quantitative","scale":{"domain":[1.19124,1.2685],"nice":false,"zero":false}},"y2":{"field":"c"},"color":{"condition":{"test":"datum.c>=datum.o","value":"#127b12"},"value":"#ff1223"}}},
{"data":{"values":[{"t":-7.12}]},"mark":{"type":"rule","color":"#4c525e","strokeWidth":1},"encoding":{"x":{"field":"t","type":"quantitative","scale":{"domain":[-7.12,288.2],"nice":false,"zero":false}}}},
{"data":{"values":[{"p":1.22984}]},"mark":{"type":"rule","color":"#ff1a1a","strokeWidth":1,"strokeDash":[2,2]},"encoding":{"y":{"field":"p","type":"quantitative","scale":{"domain":[1.19124,1.2685],"nice":false,"zero":false}}}},
{"data":{"name":"bands"},"mark":{"type":"line","strokeWidth":2.2,"opacity":0.85},"encoding":{"x":{"field":"t","type":"quantitative","scale":{"domain":[-7.12,288.2],"nice":false,"zero":false}},"y":{"field":"p","type":"quantitative","scale":{"domain":[1.19124,1.2685],"nice":false,"zero":false}},"color":{"field":"s","type":"nominal","legend":null,"scale":{"domain":["u2","u1","l1","l2","mid"],"range":["#f9797c","#f9797c","#7fc983","#7fc983","#dcdde6"]}},"order":{"field":"t","type":"quantitative"}}},
{"data":{"name":"slow"},"mark":{"type":"line","strokeWidth":4.2,"opacity":0.8},"encoding":{"x":{"field":"t","type":"quantitative","scale":{"domain":[-7.12,288.2],"nice":false,"zero":false}},"y":{"field":"p","type":"quantitative","scale":{"domain":[1.19124,1.2685],"nice":false,"zero":false}},"detail":{"field":"seg","type":"nominal"},"color":{"field":"d","type":"nominal","legend":null,"scale":{"domain":["up","down"],"range":["#2e8b30","#ff3040"]}},"order":{"field":"t","type":"quantitative"}}},
{"data":{"name":"fast"},"mark":{"type":"line","strokeWidth":2,"opacity":0.75},"encoding":{"x":{"field":"t","type":"quantitative","scale":{"domain":[-7.12,288.2],"nice":false,"zero":false}},"y":{"field":"p","type":"quantitative","scale":{"domain":[1.19124,1.2685],"nice":false,"zero":false}},"detail":{"field":"seg","type":"nominal"},"color":{"field":"d","type":"nominal","legend":null,"scale":{"domain":["up","down"],"range":["#2e8b30","#f73c44"]}},"order":{"field":"t","type":"quantitative"}}},
{"data":{"name":"pivots"},"transform":[{"filter":"datum.kind=='gray'"}],"mark":{"type":"rule","color":"#d1d4dc","strokeWidth":1},"encoding":{"x":{"field":"from","type":"quantitative","scale":{"domain":[-7.12,288.2],"nice":false,"zero":false}},"x2":{"field":"to"},"y":{"field":"p","type":"quantitative","scale":{"domain":[1.19124,1.2685],"nice":false,"zero":false}}}},
{"data":{"name":"pivots"},"transform":[{"filter":"datum.kind=='gray'"}],"mark":{"type":"text","color":"#d1d4dc","font":"Liberation Sans","fontSize":12,"fontWeight":"bold","dy":3},"encoding":{"x":{"field":"lx","type":"quantitative","scale":{"domain":[-7.12,288.2],"nice":false,"zero":false}},"y":{"field":"p","type":"quantitative","scale":{"domain":[1.19124,1.2685],"nice":false,"zero":false}},"text":{"field":"name"}}},
{"data":{"name":"pivots"},"transform":[{"filter":"datum.kind=='thick'"}],"mark":{"type":"rule","color":"#000000","strokeWidth":3},"encoding":{"x":{"field":"from","type":"quantitative","scale":{"domain":[-7.12,288.2],"nice":false,"zero":false}},"x2":{"field":"to"},"y":{"field":"p","type":"quantitative","scale":{"domain":[1.19124,1.2685],"nice":false,"zero":false}}}},
{"data":{"name":"pivots"},"transform":[{"filter":"datum.kind=='thin'"}],"mark":{"type":"rule","color":"#000000","strokeWidth":2},"encoding":{"x":{"field":"from","type":"quantitative","scale":{"domain":[-7.12,288.2],"nice":false,"zero":false}},"x2":{"field":"to"},"y":{"field":"p","type":"quantitative","scale":{"domain":[1.19124,1.2685],"nice":false,"zero":false}}}},
{"data":{"name":"pivots"},"transform":[{"filter":"datum.kind!='gray'"}],"mark":{"type":"text","color":"#1a1a1a","font":"Liberation Sans","fontSize":11,"dy":2},"encoding":{"x":{"field":"lx","type":"quantitative","scale":{"domain":[-7.12,288.2],"nice":false,"zero":false}},"y":{"field":"p","type":"quantitative","scale":{"domain":[1.19124,1.2685],"nice":false,"zero":false}},"text":{"field":"name"}}},
{"data":{"name":"forecast"},"mark":{"type":"bar","size":3,"color":"#2676cc"},"encoding":{"x":{"field":"t","type":"quantitative","scale":{"domain":[-7.12,288.2],"nice":false,"zero":false,"padding":0}},"y":{"field":"lo","type":"quantitative","scale":{"domain":[1.19124,1.2685],"nice":false,"zero":false}},"y2":{"field":"hi"}}},
{"data":{"values":[{"a":288.3,"b":298.8,"lo":1.22906,"hi":1.23059,"kind":"red"},{"a":291.5,"b":298.7,"lo":1.22747,"hi":1.229,"kind":"red"},{"a":285.2,"b":298.8,"lo":1.21694,"hi":1.2185,"kind":"dark"},{"a":282.6,"b":285.0,"lo":1.26586,"hi":1.26708,"kind":"btn"},{"a":285.6,"b":288.0,"lo":1.26586,"hi":1.26708,"kind":"btn"}]},"mark":{"type":"rect"},"encoding":{"x":{"field":"a","type":"quantitative","scale":{"domain":[-7.12,288.2],"nice":false,"zero":false}},"x2":{"field":"b"},"y":{"field":"lo","type":"quantitative","scale":{"domain":[1.19124,1.2685],"nice":false,"zero":false}},"y2":{"field":"hi"},"color":{"field":"kind","type":"nominal","legend":null,"scale":{"domain":["red","dark","btn"],"range":["#ff1a2a","#4c525e","#c5c8d6"]}}}},
{"data":{"values":[{"t":293.6,"p":1.22983,"s":"1.22987"},{"t":295.1,"p":1.22824,"s":"34:46"},{"t":293.6,"p":1.21772,"s":"1.21766"},{"t":286.7,"p":1.21772,"s":"+"},{"t":283.8,"p":1.26647,"s":"▾"},{"t":286.8,"p":1.26647,"s":"⇕"}]},"mark":{"type":"text","color":"#ffffff","font":"Open Sans","fontSize":11.5},"encoding":{"x":{"field":"t","type":"quantitative","scale":{"domain":[-7.12,288.2],"nice":false,"zero":false}},"y":{"field":"p","type":"quantitative","scale":{"domain":[1.19124,1.2685],"nice":false,"zero":false}},"text":{"field":"s"}}}
]},
{"width":1683,"height":289,"resolve":{"scale":{"color":"independent"}},"layer":[
{"data":{"values":[{"v":28.7},{"v":-46.7}]},"mark":{"type":"rule","color":"#4c525e","strokeWidth":1,"strokeDash":[5,4]},"encoding":{"y":{"field":"v","type":"quantitative","scale":{"domain":[-84.6,69.8],"nice":false,"zero":false},"axis":{"title":null,"orient":"right","values":[-80,-60,-40,-20,0,20,40,60],"format":".5f","grid":true,"gridColor":"#e1ecf2","gridWidth":1,"domain":true,"domainColor":"#4c525e","tickColor":"#4c525e","tickSize":5,"labelPadding":6,"labelFont":"Open Sans","labelFontSize":11.5,"labelColor":"#4c525e"}}}},
{"data":{"values":[{"t":-7.12}]},"mark":{"type":"rule","color":"#4c525e","strokeWidth":1},"encoding":{"x":{"field":"t","type":"quantitative","scale":{"domain":[-7.12,288.2],"nice":false,"zero":false},"axis":{"title":null,"orient":"bottom","values":[0,24,48,72,96,120,144,168,192,216,240,264,288],"labelExpr":"['19','20','23','24','25','26','27','30','Oct','2','3','4','7'][round(datum.value/24)]","grid":true,"gridColor":"#e1ecf2","gridWidth":1,"domain":true,"domainColor":"#4c525e","tickColor":"#4c525e","tickSize":4,"labelPadding":6,"labelFont":"Open Sans","labelFontSize":11.5,"labelColor":"#4c525e","labelFlush":false}}}},
{"data":{"values":[{"v":69.8}]},"mark":{"type":"rule","color":"#4c525e","strokeWidth":1},"encoding":{"y":{"field":"v","type":"quantitative","scale":{"domain":[-84.6,69.8],"nice":false,"zero":false}}}},
{"data":{"values":[{"a":-6,"b":247,"v":0}]},"mark":{"type":"rule","color":"#d28af0","strokeWidth":1.5},"encoding":{"x":{"field":"a","type":"quantitative","scale":{"domain":[-7.12,288.2],"nice":false,"zero":false}},"x2":{"field":"b"},"y":{"field":"v","type":"quantitative","scale":{"domain":[-84.6,69.8],"nice":false,"zero":false}}}},
{"data":{"name":"mom"},"mark":{"type":"line","strokeWidth":3.8,"opacity":0.85},"encoding":{"x":{"field":"t","type":"quantitative","scale":{"domain":[-7.12,288.2],"nice":false,"zero":false}},"y":{"field":"v","type":"quantitative","scale":{"domain":[-84.6,69.8],"nice":false,"zero":false}},"detail":{"field":"seg","type":"nominal"},"color":{"field":"d","type":"nominal","legend":null,"scale":{"domain":["up","down"],"range":["#7cc580","#f96d6c"]}},"order":{"field":"t","type":"quantitative"}}},
{"data":{"name":"kline"},"mark":{"type":"line","color":"#2ea232","strokeWidth":1},"encoding":{"x":{"field":"t","type":"quantitative","scale":{"domain":[-7.12,288.2],"nice":false,"zero":false}},"y":{"field":"v","type":"quantitative","scale":{"domain":[-84.6,69.8],"nice":false,"zero":false}}}},
{"data":{"name":"dline"},"mark":{"type":"line","color":"#f23a3a","strokeWidth":1},"encoding":{"x":{"field":"t","type":"quantitative","scale":{"domain":[-7.12,288.2],"nice":false,"zero":false}},"y":{"field":"v","type":"quantitative","scale":{"domain":[-84.6,69.8],"nice":false,"zero":false}}}},
{"data":{"values":[{"a":-7.12,"b":300,"v":-99}]},"mark":{"type":"rule","color":"#e0e3eb","strokeWidth":1.5},"encoding":{"x":{"field":"a","type":"quantitative","scale":{"domain":[-7.12,288.2],"nice":false,"zero":false}},"x2":{"field":"b"},"y":{"field":"v","type":"quantitative","scale":{"domain":[-84.6,69.8],"nice":false,"zero":false}}}},
{"data":{"values":[{"t":288.2,"a":-84.6,"b":-99}]},"mark":{"type":"rule","color":"#4c525e","strokeWidth":1},"encoding":{"x":{"field":"t","type":"quantitative","scale":{"domain":[-7.12,288.2],"nice":false,"zero":false}},"y":{"field":"a","type":"quantitative","scale":{"domain":[-84.6,69.8],"nice":false,"zero":false}},"y2":{"field":"b"}}},
{"data":{"values":[{"a":25.9,"b":44.3,"lo":-97.4,"hi":-84.6}]},"mark":{"type":"rect","color":"#4c525e"},"encoding":{"x":{"field":"a","type":"quantitative","scale":{"domain":[-7.12,288.2],"nice":false,"zero":false}},"x2":{"field":"b"},"y":{"field":"lo","type":"quantitative","scale":{"domain":[-84.6,69.8],"nice":false,"zero":false}},"y2":{"field":"hi"}}},
{"data":{"values":[{"t":35.1,"v":-91,"s":"20 Sep '19\u00a0\u00a0\u00a011:00"}]},"mark":{"type":"text","color":"#ffffff","font":"Open Sans","fontSize":11.5},"encoding":{"x":{"field":"t","type":"quantitative","scale":{"domain":[-7.12,288.2],"nice":false,"zero":false}},"y":{"field":"v","type":"quantitative","scale":{"domain":[-84.6,69.8],"nice":false,"zero":false}},"text":{"field":"s"}}},
{"data":{"values":[{"t":294.3,"v":-93}]},"mark":{"type":"point","shape":"circle","filled":true,"color":"#eef0f6","size":420,"opacity":1},"encoding":{"x":{"field":"t","type":"quantitative","scale":{"domain":[-7.12,288.2],"nice":false,"zero":false}},"y":{"field":"v","type":"quantitative","scale":{"domain":[-84.6,69.8],"nice":false,"zero":false}}}},
{"data":{"values":[{"t":294.3,"v":-93,"s":"A"}]},"mark":{"type":"text","color":"#4c525e","font":"Open Sans","fontSize":10},"encoding":{"x":{"field":"t","type":"quantitative","scale":{"domain":[-7.12,288.2],"nice":false,"zero":false}},"y":{"field":"v","type":"quantitative","scale":{"domain":[-84.6,69.8],"nice":false,"zero":false}},"text":{"field":"s"}}}
]}
]}
